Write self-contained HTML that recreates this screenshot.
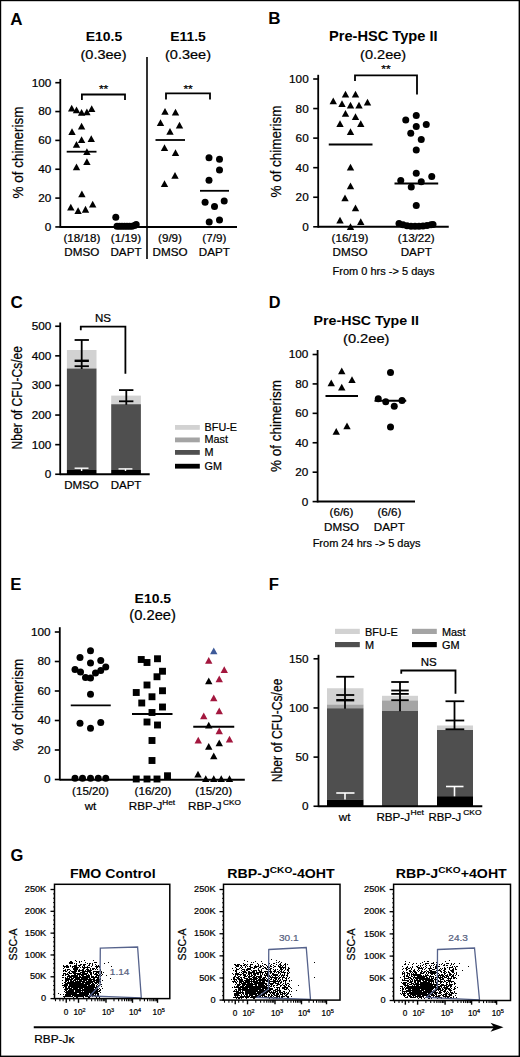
<!DOCTYPE html>
<html><head><meta charset="utf-8"><style>
html,body{margin:0;padding:0;background:#fff;width:520px;height:1057px;overflow:hidden}
svg{display:block;font-family:"Liberation Sans", sans-serif}
</style></head><body>
<svg width="520" height="1057" viewBox="0 0 520 1057">
<rect width="520" height="1057" fill="#fff"/>
<text transform="translate(10.30,24.60)" font-size="17" text-anchor="start" font-weight="bold" fill="#000">A</text>
<text transform="translate(103.90,41.00) scale(1.050,1)" font-size="13.3" text-anchor="middle" font-weight="bold" fill="#000">E10.5</text>
<text transform="translate(103.50,59.00) scale(1.070,1)" font-size="13.6" text-anchor="middle" stroke="#000" stroke-width="0.22" fill="#000">(0.3ee)</text>
<text transform="translate(188.00,41.00) scale(1.050,1)" font-size="13.3" text-anchor="middle" font-weight="bold" fill="#000">E11.5</text>
<text transform="translate(188.00,59.00) scale(1.070,1)" font-size="13.6" text-anchor="middle" stroke="#000" stroke-width="0.22" fill="#000">(0.3ee)</text>
<line x1="147.00" y1="57.00" x2="147.00" y2="259.00" stroke="#000" stroke-width="1.6"/>
<line x1="60.30" y1="79.00" x2="60.30" y2="227.85" stroke="#000" stroke-width="1.8"/>
<line x1="55.30" y1="82.70" x2="60.30" y2="82.70" stroke="#000" stroke-width="1.62"/>
<text transform="translate(51.30,86.64) scale(1.070,1)" font-size="11.0" text-anchor="end" stroke="#000" stroke-width="0.22" fill="#000">100</text>
<line x1="55.30" y1="111.55" x2="60.30" y2="111.55" stroke="#000" stroke-width="1.62"/>
<text transform="translate(51.30,115.49) scale(1.070,1)" font-size="11.0" text-anchor="end" stroke="#000" stroke-width="0.22" fill="#000">80</text>
<line x1="55.30" y1="140.40" x2="60.30" y2="140.40" stroke="#000" stroke-width="1.62"/>
<text transform="translate(51.30,144.34) scale(1.070,1)" font-size="11.0" text-anchor="end" stroke="#000" stroke-width="0.22" fill="#000">60</text>
<line x1="55.30" y1="169.25" x2="60.30" y2="169.25" stroke="#000" stroke-width="1.62"/>
<text transform="translate(51.30,173.19) scale(1.070,1)" font-size="11.0" text-anchor="end" stroke="#000" stroke-width="0.22" fill="#000">40</text>
<line x1="55.30" y1="198.10" x2="60.30" y2="198.10" stroke="#000" stroke-width="1.62"/>
<text transform="translate(51.30,202.04) scale(1.070,1)" font-size="11.0" text-anchor="end" stroke="#000" stroke-width="0.22" fill="#000">20</text>
<line x1="55.30" y1="226.95" x2="60.30" y2="226.95" stroke="#000" stroke-width="1.62"/>
<text transform="translate(51.30,230.89) scale(1.070,1)" font-size="11.0" text-anchor="end" stroke="#000" stroke-width="0.22" fill="#000">0</text>
<line x1="60.30" y1="226.90" x2="237.00" y2="226.90" stroke="#000" stroke-width="2.0"/>
<polyline points="81.90,100.00 81.90,94.50 125.00,94.50 125.00,100.00" fill="none" stroke="#000" stroke-width="1.8"/>
<text transform="translate(103.60,92.90) scale(1.100,1)" font-size="11" text-anchor="middle" stroke="#000" stroke-width="0.22" fill="#000">**</text>
<polyline points="166.00,99.50 166.00,93.30 210.00,93.30 210.00,99.50" fill="none" stroke="#000" stroke-width="1.8"/>
<text transform="translate(188.10,92.50) scale(1.100,1)" font-size="11" text-anchor="middle" stroke="#000" stroke-width="0.22" fill="#000">**</text>
<polygon points="71.70,104.76 68.00,111.56 75.40,111.56" fill="#000"/>
<polygon points="76.50,106.46 72.80,113.26 80.20,113.26" fill="#000"/>
<polygon points="81.60,109.06 77.90,115.86 85.30,115.86" fill="#000"/>
<polygon points="86.90,108.56 83.20,115.36 90.60,115.36" fill="#000"/>
<polygon points="91.70,105.16 88.00,111.96 95.40,111.96" fill="#000"/>
<polygon points="81.60,122.66 77.90,129.46 85.30,129.46" fill="#000"/>
<polygon points="72.00,128.26 68.30,135.06 75.70,135.06" fill="#000"/>
<polygon points="81.60,136.16 77.90,142.96 85.30,142.96" fill="#000"/>
<polygon points="91.25,135.16 87.55,141.96 94.95,141.96" fill="#000"/>
<polygon points="76.50,141.06 72.80,147.86 80.20,147.86" fill="#000"/>
<polygon points="86.90,148.26 83.20,155.06 90.60,155.06" fill="#000"/>
<polygon points="86.90,158.26 83.20,165.06 90.60,165.06" fill="#000"/>
<polygon points="76.50,163.56 72.80,170.36 80.20,170.36" fill="#000"/>
<polygon points="81.90,190.46 78.20,197.26 85.60,197.26" fill="#000"/>
<polygon points="92.70,200.76 89.00,207.56 96.40,207.56" fill="#000"/>
<polygon points="70.80,203.66 67.10,210.46 74.50,210.46" fill="#000"/>
<polygon points="78.10,207.26 74.40,214.06 81.80,214.06" fill="#000"/>
<polygon points="85.50,205.86 81.80,212.66 89.20,212.66" fill="#000"/>
<line x1="66.70" y1="151.70" x2="96.50" y2="151.70" stroke="#000" stroke-width="1.8"/>
<circle cx="115.80" cy="217.30" r="3.5" fill="#000"/>
<circle cx="117.00" cy="226.30" r="3.5" fill="#000"/>
<circle cx="119.50" cy="226.30" r="3.5" fill="#000"/>
<circle cx="122.00" cy="226.30" r="3.5" fill="#000"/>
<circle cx="124.50" cy="226.30" r="3.5" fill="#000"/>
<circle cx="127.00" cy="226.30" r="3.5" fill="#000"/>
<circle cx="129.50" cy="226.30" r="3.5" fill="#000"/>
<circle cx="132.00" cy="226.30" r="3.5" fill="#000"/>
<circle cx="134.50" cy="225.50" r="3.5" fill="#000"/>
<circle cx="136.20" cy="224.60" r="3.5" fill="#000"/>
<polygon points="165.00,108.01 161.30,114.81 168.70,114.81" fill="#000"/>
<polygon points="175.50,108.76 171.80,115.56 179.20,115.56" fill="#000"/>
<polygon points="160.50,119.26 156.80,126.06 164.20,126.06" fill="#000"/>
<polygon points="179.50,121.76 175.80,128.56 183.20,128.56" fill="#000"/>
<polygon points="170.00,128.01 166.30,134.81 173.70,134.81" fill="#000"/>
<polygon points="164.50,144.26 160.80,151.06 168.20,151.06" fill="#000"/>
<polygon points="175.50,149.26 171.80,156.06 179.20,156.06" fill="#000"/>
<polygon points="175.00,172.01 171.30,178.81 178.70,178.81" fill="#000"/>
<polygon points="164.50,180.26 160.80,187.06 168.20,187.06" fill="#000"/>
<line x1="155.50" y1="140.00" x2="185.00" y2="140.00" stroke="#000" stroke-width="1.8"/>
<circle cx="209.00" cy="157.70" r="3.5" fill="#000"/>
<circle cx="219.50" cy="159.30" r="3.5" fill="#000"/>
<circle cx="219.50" cy="170.00" r="3.5" fill="#000"/>
<circle cx="209.00" cy="180.30" r="3.5" fill="#000"/>
<circle cx="205.10" cy="202.20" r="3.5" fill="#000"/>
<circle cx="214.50" cy="206.50" r="3.5" fill="#000"/>
<circle cx="224.20" cy="200.90" r="3.5" fill="#000"/>
<circle cx="209.20" cy="222.00" r="3.5" fill="#000"/>
<circle cx="219.50" cy="220.00" r="3.5" fill="#000"/>
<line x1="200.00" y1="190.80" x2="229.00" y2="190.80" stroke="#000" stroke-width="1.8"/>
<text transform="translate(81.85,242.40) scale(1.060,1)" font-size="11" text-anchor="middle" stroke="#000" stroke-width="0.22" fill="#000">(18/18)</text>
<text transform="translate(81.85,255.80) scale(1.060,1)" font-size="11" text-anchor="middle" stroke="#000" stroke-width="0.22" fill="#000">DMSO</text>
<text transform="translate(126.00,242.40) scale(1.060,1)" font-size="11" text-anchor="middle" stroke="#000" stroke-width="0.22" fill="#000">(1/19)</text>
<text transform="translate(126.00,255.80) scale(1.060,1)" font-size="11" text-anchor="middle" stroke="#000" stroke-width="0.22" fill="#000">DAPT</text>
<text transform="translate(170.00,242.40) scale(1.060,1)" font-size="11" text-anchor="middle" stroke="#000" stroke-width="0.22" fill="#000">(9/9)</text>
<text transform="translate(170.00,255.80) scale(1.060,1)" font-size="11" text-anchor="middle" stroke="#000" stroke-width="0.22" fill="#000">DMSO</text>
<text transform="translate(214.30,242.40) scale(1.060,1)" font-size="11" text-anchor="middle" stroke="#000" stroke-width="0.22" fill="#000">(7/9)</text>
<text transform="translate(214.30,255.80) scale(1.060,1)" font-size="11" text-anchor="middle" stroke="#000" stroke-width="0.22" fill="#000">DAPT</text>
<text transform="translate(23.00,152.50) scale(1.080,1) rotate(-90)" font-size="13.45" text-anchor="middle" stroke="#000" stroke-width="0.22" fill="#000">% of chimerism</text>
<text transform="translate(268.30,24.40)" font-size="17" text-anchor="start" font-weight="bold" fill="#000">B</text>
<text transform="translate(383.30,41.20) scale(1.060,1)" font-size="13.8" text-anchor="middle" font-weight="bold" fill="#000">Pre-HSC Type II</text>
<text transform="translate(383.10,58.60) scale(1.070,1)" font-size="13.6" text-anchor="middle" stroke="#000" stroke-width="0.22" fill="#000">(0.2ee)</text>
<line x1="318.20" y1="74.80" x2="318.20" y2="227.70" stroke="#000" stroke-width="1.8"/>
<line x1="313.20" y1="79.00" x2="318.20" y2="79.00" stroke="#000" stroke-width="1.62"/>
<text transform="translate(308.70,82.94) scale(1.070,1)" font-size="11.0" text-anchor="end" stroke="#000" stroke-width="0.22" fill="#000">100</text>
<line x1="313.20" y1="108.56" x2="318.20" y2="108.56" stroke="#000" stroke-width="1.62"/>
<text transform="translate(308.70,112.50) scale(1.070,1)" font-size="11.0" text-anchor="end" stroke="#000" stroke-width="0.22" fill="#000">80</text>
<line x1="313.20" y1="138.12" x2="318.20" y2="138.12" stroke="#000" stroke-width="1.62"/>
<text transform="translate(308.70,142.06) scale(1.070,1)" font-size="11.0" text-anchor="end" stroke="#000" stroke-width="0.22" fill="#000">60</text>
<line x1="313.20" y1="167.68" x2="318.20" y2="167.68" stroke="#000" stroke-width="1.62"/>
<text transform="translate(308.70,171.62) scale(1.070,1)" font-size="11.0" text-anchor="end" stroke="#000" stroke-width="0.22" fill="#000">40</text>
<line x1="313.20" y1="197.24" x2="318.20" y2="197.24" stroke="#000" stroke-width="1.62"/>
<text transform="translate(308.70,201.18) scale(1.070,1)" font-size="11.0" text-anchor="end" stroke="#000" stroke-width="0.22" fill="#000">20</text>
<line x1="313.20" y1="226.80" x2="318.20" y2="226.80" stroke="#000" stroke-width="1.62"/>
<text transform="translate(308.70,230.74) scale(1.070,1)" font-size="11.0" text-anchor="end" stroke="#000" stroke-width="0.22" fill="#000">0</text>
<line x1="318.20" y1="226.75" x2="448.75" y2="226.75" stroke="#000" stroke-width="2.0"/>
<polyline points="355.00,81.00 355.00,75.30 417.00,75.30 417.00,94.50" fill="none" stroke="#000" stroke-width="1.8"/>
<text transform="translate(385.90,73.30) scale(1.100,1)" font-size="11" text-anchor="middle" stroke="#000" stroke-width="0.22" fill="#000">**</text>
<polygon points="345.50,90.76 341.80,97.56 349.20,97.56" fill="#000"/>
<polygon points="355.50,90.76 351.80,97.56 359.20,97.56" fill="#000"/>
<polygon points="333.25,97.51 329.55,104.31 336.95,104.31" fill="#000"/>
<polygon points="342.00,100.26 338.30,107.06 345.70,107.06" fill="#000"/>
<polygon points="350.50,101.76 346.80,108.56 354.20,108.56" fill="#000"/>
<polygon points="359.00,101.76 355.30,108.56 362.70,108.56" fill="#000"/>
<polygon points="367.50,98.76 363.80,105.56 371.20,105.56" fill="#000"/>
<polygon points="345.50,110.01 341.80,116.81 349.20,116.81" fill="#000"/>
<polygon points="355.50,113.26 351.80,120.06 359.20,120.06" fill="#000"/>
<polygon points="340.00,120.26 336.30,127.06 343.70,127.06" fill="#000"/>
<polygon points="360.75,120.26 357.05,127.06 364.45,127.06" fill="#000"/>
<polygon points="350.50,128.26 346.80,135.06 354.20,135.06" fill="#000"/>
<polygon points="350.50,163.76 346.80,170.56 354.20,170.56" fill="#000"/>
<polygon points="350.50,182.51 346.80,189.31 354.20,189.31" fill="#000"/>
<polygon points="345.00,194.51 341.30,201.31 348.70,201.31" fill="#000"/>
<polygon points="355.50,204.51 351.80,211.31 359.20,211.31" fill="#000"/>
<polygon points="340.00,216.76 336.30,223.56 343.70,223.56" fill="#000"/>
<polygon points="360.75,218.26 357.05,225.06 364.45,225.06" fill="#000"/>
<polygon points="350.50,223.26 346.80,230.06 354.20,230.06" fill="#000"/>
<line x1="328.75" y1="144.50" x2="372.50" y2="144.50" stroke="#000" stroke-width="1.8"/>
<circle cx="416.25" cy="115.50" r="3.5" fill="#000"/>
<circle cx="405.75" cy="120.00" r="3.5" fill="#000"/>
<circle cx="426.25" cy="124.50" r="3.5" fill="#000"/>
<circle cx="416.25" cy="126.50" r="3.5" fill="#000"/>
<circle cx="410.75" cy="133.25" r="3.5" fill="#000"/>
<circle cx="421.25" cy="139.50" r="3.5" fill="#000"/>
<circle cx="416.25" cy="150.00" r="3.5" fill="#000"/>
<circle cx="416.25" cy="173.25" r="3.5" fill="#000"/>
<circle cx="400.75" cy="180.50" r="3.5" fill="#000"/>
<circle cx="431.75" cy="176.50" r="3.5" fill="#000"/>
<circle cx="421.25" cy="181.75" r="3.5" fill="#000"/>
<circle cx="411.25" cy="187.00" r="3.5" fill="#000"/>
<circle cx="416.25" cy="205.50" r="3.5" fill="#000"/>
<circle cx="399.00" cy="223.60" r="3.5" fill="#000"/>
<circle cx="403.00" cy="224.80" r="3.5" fill="#000"/>
<circle cx="407.00" cy="225.80" r="3.5" fill="#000"/>
<circle cx="411.00" cy="226.20" r="3.5" fill="#000"/>
<circle cx="415.00" cy="226.20" r="3.5" fill="#000"/>
<circle cx="419.00" cy="226.20" r="3.5" fill="#000"/>
<circle cx="423.00" cy="226.00" r="3.5" fill="#000"/>
<circle cx="427.00" cy="225.50" r="3.5" fill="#000"/>
<circle cx="431.00" cy="224.80" r="3.5" fill="#000"/>
<circle cx="433.00" cy="224.50" r="3.5" fill="#000"/>
<line x1="394.50" y1="183.50" x2="438.20" y2="183.50" stroke="#000" stroke-width="1.8"/>
<text transform="translate(350.00,242.40) scale(1.060,1)" font-size="11" text-anchor="middle" stroke="#000" stroke-width="0.22" fill="#000">(16/19)</text>
<text transform="translate(350.00,255.60) scale(1.060,1)" font-size="11" text-anchor="middle" stroke="#000" stroke-width="0.22" fill="#000">DMSO</text>
<text transform="translate(416.25,242.40) scale(1.060,1)" font-size="11" text-anchor="middle" stroke="#000" stroke-width="0.22" fill="#000">(13/22)</text>
<text transform="translate(416.25,255.60) scale(1.060,1)" font-size="11" text-anchor="middle" stroke="#000" stroke-width="0.22" fill="#000">DAPT</text>
<text transform="translate(383.50,275.00)" font-size="11" text-anchor="middle" stroke="#000" stroke-width="0.22" fill="#000">From 0 hrs -&gt; 5 days</text>
<text transform="translate(280.50,151.60) scale(1.080,1) rotate(-90)" font-size="13.45" text-anchor="middle" stroke="#000" stroke-width="0.22" fill="#000">% of chimerism</text>
<text transform="translate(10.50,307.60)" font-size="17" text-anchor="start" font-weight="bold" fill="#000">C</text>
<rect x="66.90" y="350.00" width="29.60" height="18.50" fill="#d2d2d2"/>
<rect x="66.90" y="368.50" width="29.60" height="101.50" fill="#4f4f4f"/>
<rect x="66.90" y="470.00" width="29.60" height="4.30" fill="#000"/>
<rect x="111.20" y="395.60" width="29.70" height="8.60" fill="#d2d2d2"/>
<rect x="111.20" y="404.20" width="29.70" height="65.80" fill="#4f4f4f"/>
<rect x="111.20" y="470.00" width="29.70" height="4.30" fill="#000"/>
<line x1="60.20" y1="322.50" x2="60.20" y2="475.15" stroke="#000" stroke-width="1.8"/>
<line x1="55.20" y1="326.25" x2="60.20" y2="326.25" stroke="#000" stroke-width="1.62"/>
<text transform="translate(51.30,330.19) scale(1.070,1)" font-size="11.0" text-anchor="end" stroke="#000" stroke-width="0.22" fill="#000">500</text>
<line x1="55.20" y1="355.85" x2="60.20" y2="355.85" stroke="#000" stroke-width="1.62"/>
<text transform="translate(51.30,359.79) scale(1.070,1)" font-size="11.0" text-anchor="end" stroke="#000" stroke-width="0.22" fill="#000">400</text>
<line x1="55.20" y1="385.45" x2="60.20" y2="385.45" stroke="#000" stroke-width="1.62"/>
<text transform="translate(51.30,389.39) scale(1.070,1)" font-size="11.0" text-anchor="end" stroke="#000" stroke-width="0.22" fill="#000">300</text>
<line x1="55.20" y1="415.05" x2="60.20" y2="415.05" stroke="#000" stroke-width="1.62"/>
<text transform="translate(51.30,418.99) scale(1.070,1)" font-size="11.0" text-anchor="end" stroke="#000" stroke-width="0.22" fill="#000">200</text>
<line x1="55.20" y1="444.65" x2="60.20" y2="444.65" stroke="#000" stroke-width="1.62"/>
<text transform="translate(51.30,448.59) scale(1.070,1)" font-size="11.0" text-anchor="end" stroke="#000" stroke-width="0.22" fill="#000">100</text>
<line x1="55.20" y1="474.25" x2="60.20" y2="474.25" stroke="#000" stroke-width="1.62"/>
<text transform="translate(51.30,478.19) scale(1.070,1)" font-size="11.0" text-anchor="end" stroke="#000" stroke-width="0.22" fill="#000">0</text>
<line x1="60.20" y1="474.30" x2="149.70" y2="474.30" stroke="#000" stroke-width="2.0"/>
<line x1="81.70" y1="340.00" x2="81.70" y2="369.00" stroke="#000" stroke-width="1.8"/>
<line x1="74.60" y1="340.00" x2="88.90" y2="340.00" stroke="#000" stroke-width="1.8"/>
<line x1="74.60" y1="360.80" x2="88.90" y2="360.80" stroke="#000" stroke-width="2.4"/>
<line x1="74.60" y1="366.20" x2="88.90" y2="366.20" stroke="#000" stroke-width="1.8"/>
<line x1="126.30" y1="390.10" x2="126.30" y2="404.80" stroke="#000" stroke-width="1.8"/>
<line x1="119.00" y1="390.10" x2="133.40" y2="390.10" stroke="#000" stroke-width="1.8"/>
<line x1="119.00" y1="401.30" x2="133.40" y2="401.30" stroke="#000" stroke-width="1.8"/>
<line x1="81.60" y1="468.20" x2="81.60" y2="471.00" stroke="#fff" stroke-width="1.4"/>
<line x1="74.60" y1="468.20" x2="88.50" y2="468.20" stroke="#fff" stroke-width="1.4"/>
<line x1="125.50" y1="468.90" x2="125.50" y2="471.00" stroke="#fff" stroke-width="1.4"/>
<line x1="118.50" y1="468.90" x2="132.40" y2="468.90" stroke="#fff" stroke-width="1.4"/>
<polyline points="80.80,330.20 80.80,326.60 125.40,326.60 125.40,373.80" fill="none" stroke="#000" stroke-width="1.8"/>
<text transform="translate(103.00,322.20) scale(1.050,1)" font-size="11" text-anchor="middle" stroke="#000" stroke-width="0.22" fill="#000">NS</text>
<text transform="translate(81.50,488.50) scale(1.030,1)" font-size="11.2" text-anchor="middle" stroke="#000" stroke-width="0.22" fill="#000">DMSO</text>
<text transform="translate(126.00,488.50) scale(1.030,1)" font-size="11.2" text-anchor="middle" stroke="#000" stroke-width="0.22" fill="#000">DAPT</text>
<rect x="175.00" y="425.00" width="24.80" height="4.80" fill="#d2d2d2"/>
<text transform="translate(204.60,430.70)" font-size="10.8" text-anchor="start" stroke="#000" stroke-width="0.22" fill="#000">BFU-E</text>
<rect x="175.00" y="437.50" width="24.80" height="4.80" fill="#a4a4a4"/>
<text transform="translate(204.60,443.20)" font-size="10.8" text-anchor="start" stroke="#000" stroke-width="0.22" fill="#000">Mast</text>
<rect x="175.00" y="450.00" width="24.80" height="4.80" fill="#4f4f4f"/>
<text transform="translate(204.60,455.70)" font-size="10.8" text-anchor="start" stroke="#000" stroke-width="0.22" fill="#000">M</text>
<rect x="175.00" y="463.80" width="24.80" height="4.80" fill="#000"/>
<text transform="translate(204.60,469.50)" font-size="10.8" text-anchor="start" stroke="#000" stroke-width="0.22" fill="#000">GM</text>
<text transform="translate(22.20,397.70) scale(1.200,1) rotate(-90)" font-size="12.1" text-anchor="middle" stroke="#000" stroke-width="0.22" fill="#000">Nber of CFU-Cs/ee</text>
<text transform="translate(268.80,307.90)" font-size="16.3" text-anchor="start" font-weight="bold" fill="#000">D</text>
<text transform="translate(366.25,325.00) scale(1.045,1)" font-size="13.6" text-anchor="middle" font-weight="bold" fill="#000">Pre-HSC Type II</text>
<text transform="translate(366.25,342.70) scale(1.080,1)" font-size="13.6" text-anchor="middle" stroke="#000" stroke-width="0.22" fill="#000">(0.2ee)</text>
<line x1="317.60" y1="350.00" x2="317.60" y2="502.50" stroke="#000" stroke-width="1.8"/>
<line x1="312.60" y1="354.50" x2="317.60" y2="354.50" stroke="#000" stroke-width="1.62"/>
<text transform="translate(308.40,358.44) scale(1.070,1)" font-size="11.0" text-anchor="end" stroke="#000" stroke-width="0.22" fill="#000">100</text>
<line x1="312.60" y1="383.92" x2="317.60" y2="383.92" stroke="#000" stroke-width="1.62"/>
<text transform="translate(308.40,387.86) scale(1.070,1)" font-size="11.0" text-anchor="end" stroke="#000" stroke-width="0.22" fill="#000">80</text>
<line x1="312.60" y1="413.34" x2="317.60" y2="413.34" stroke="#000" stroke-width="1.62"/>
<text transform="translate(308.40,417.28) scale(1.070,1)" font-size="11.0" text-anchor="end" stroke="#000" stroke-width="0.22" fill="#000">60</text>
<line x1="312.60" y1="442.76" x2="317.60" y2="442.76" stroke="#000" stroke-width="1.62"/>
<text transform="translate(308.40,446.70) scale(1.070,1)" font-size="11.0" text-anchor="end" stroke="#000" stroke-width="0.22" fill="#000">40</text>
<line x1="312.60" y1="472.18" x2="317.60" y2="472.18" stroke="#000" stroke-width="1.62"/>
<text transform="translate(308.40,476.12) scale(1.070,1)" font-size="11.0" text-anchor="end" stroke="#000" stroke-width="0.22" fill="#000">20</text>
<line x1="312.60" y1="501.60" x2="317.60" y2="501.60" stroke="#000" stroke-width="1.62"/>
<text transform="translate(308.40,505.54) scale(1.070,1)" font-size="11.0" text-anchor="end" stroke="#000" stroke-width="0.22" fill="#000">0</text>
<line x1="317.60" y1="501.60" x2="415.00" y2="501.60" stroke="#000" stroke-width="2.0"/>
<polygon points="341.75,367.51 338.05,374.31 345.45,374.31" fill="#000"/>
<polygon points="331.25,379.51 327.55,386.31 334.95,386.31" fill="#000"/>
<polygon points="352.00,376.26 348.30,383.06 355.70,383.06" fill="#000"/>
<polygon points="341.75,383.76 338.05,390.56 345.45,390.56" fill="#000"/>
<polygon points="336.25,428.01 332.55,434.81 339.95,434.81" fill="#000"/>
<polygon points="347.00,422.51 343.30,429.31 350.70,429.31" fill="#000"/>
<line x1="325.50" y1="396.00" x2="358.00" y2="396.00" stroke="#000" stroke-width="1.8"/>
<circle cx="390.50" cy="372.50" r="3.5" fill="#000"/>
<circle cx="378.25" cy="398.75" r="3.5" fill="#000"/>
<circle cx="385.75" cy="401.75" r="3.5" fill="#000"/>
<circle cx="394.25" cy="406.25" r="3.5" fill="#000"/>
<circle cx="402.00" cy="400.50" r="3.5" fill="#000"/>
<circle cx="390.50" cy="427.00" r="3.5" fill="#000"/>
<line x1="374.50" y1="400.75" x2="406.25" y2="400.75" stroke="#000" stroke-width="1.8"/>
<text transform="translate(341.50,516.00) scale(1.060,1)" font-size="11" text-anchor="middle" stroke="#000" stroke-width="0.22" fill="#000">(6/6)</text>
<text transform="translate(341.50,531.20) scale(1.060,1)" font-size="11" text-anchor="middle" stroke="#000" stroke-width="0.22" fill="#000">DMSO</text>
<text transform="translate(389.40,516.00) scale(1.060,1)" font-size="11" text-anchor="middle" stroke="#000" stroke-width="0.22" fill="#000">(6/6)</text>
<text transform="translate(389.40,531.20) scale(1.060,1)" font-size="11" text-anchor="middle" stroke="#000" stroke-width="0.22" fill="#000">DAPT</text>
<text transform="translate(366.60,547.00)" font-size="11" text-anchor="middle" stroke="#000" stroke-width="0.22" fill="#000">From 24 hrs -&gt; 5 days</text>
<text transform="translate(281.00,426.00) scale(1.080,1) rotate(-90)" font-size="13.45" text-anchor="middle" stroke="#000" stroke-width="0.22" fill="#000">% of chimerism</text>
<text transform="translate(10.30,590.10)" font-size="16.7" text-anchor="start" font-weight="bold" fill="#000">E</text>
<text transform="translate(152.80,602.50) scale(1.050,1)" font-size="13.3" text-anchor="middle" font-weight="bold" fill="#000">E10.5</text>
<text transform="translate(152.60,620.00) scale(1.060,1)" font-size="13.9" text-anchor="middle" stroke="#000" stroke-width="0.22" fill="#000">(0.2ee)</text>
<line x1="59.80" y1="627.20" x2="59.80" y2="780.40" stroke="#000" stroke-width="1.8"/>
<line x1="54.80" y1="632.00" x2="59.80" y2="632.00" stroke="#000" stroke-width="1.62"/>
<text transform="translate(50.50,635.94) scale(1.070,1)" font-size="11.0" text-anchor="end" stroke="#000" stroke-width="0.22" fill="#000">100</text>
<line x1="54.80" y1="661.50" x2="59.80" y2="661.50" stroke="#000" stroke-width="1.62"/>
<text transform="translate(50.50,665.44) scale(1.070,1)" font-size="11.0" text-anchor="end" stroke="#000" stroke-width="0.22" fill="#000">80</text>
<line x1="54.80" y1="691.00" x2="59.80" y2="691.00" stroke="#000" stroke-width="1.62"/>
<text transform="translate(50.50,694.94) scale(1.070,1)" font-size="11.0" text-anchor="end" stroke="#000" stroke-width="0.22" fill="#000">60</text>
<line x1="54.80" y1="720.50" x2="59.80" y2="720.50" stroke="#000" stroke-width="1.62"/>
<text transform="translate(50.50,724.44) scale(1.070,1)" font-size="11.0" text-anchor="end" stroke="#000" stroke-width="0.22" fill="#000">40</text>
<line x1="54.80" y1="750.00" x2="59.80" y2="750.00" stroke="#000" stroke-width="1.62"/>
<text transform="translate(50.50,753.94) scale(1.070,1)" font-size="11.0" text-anchor="end" stroke="#000" stroke-width="0.22" fill="#000">20</text>
<line x1="54.80" y1="779.50" x2="59.80" y2="779.50" stroke="#000" stroke-width="1.62"/>
<text transform="translate(50.50,783.44) scale(1.070,1)" font-size="11.0" text-anchor="end" stroke="#000" stroke-width="0.22" fill="#000">0</text>
<line x1="59.80" y1="779.80" x2="244.80" y2="779.80" stroke="#000" stroke-width="2.0"/>
<circle cx="80.00" cy="657.50" r="3.5" fill="#000"/>
<circle cx="90.50" cy="650.75" r="3.5" fill="#000"/>
<circle cx="90.50" cy="663.00" r="3.5" fill="#000"/>
<circle cx="100.75" cy="660.50" r="3.5" fill="#000"/>
<circle cx="75.00" cy="669.50" r="3.5" fill="#000"/>
<circle cx="80.50" cy="672.00" r="3.5" fill="#000"/>
<circle cx="85.50" cy="677.50" r="3.5" fill="#000"/>
<circle cx="90.50" cy="678.00" r="3.5" fill="#000"/>
<circle cx="95.50" cy="673.00" r="3.5" fill="#000"/>
<circle cx="100.75" cy="670.50" r="3.5" fill="#000"/>
<circle cx="105.75" cy="667.00" r="3.5" fill="#000"/>
<circle cx="90.50" cy="694.25" r="3.5" fill="#000"/>
<circle cx="80.00" cy="723.25" r="3.5" fill="#000"/>
<circle cx="90.50" cy="728.25" r="3.5" fill="#000"/>
<circle cx="100.75" cy="722.50" r="3.5" fill="#000"/>
<circle cx="75.00" cy="778.25" r="3.5" fill="#000"/>
<circle cx="82.50" cy="778.25" r="3.5" fill="#000"/>
<circle cx="90.50" cy="778.25" r="3.5" fill="#000"/>
<circle cx="98.25" cy="778.25" r="3.5" fill="#000"/>
<circle cx="105.75" cy="778.25" r="3.5" fill="#000"/>
<line x1="70.75" y1="705.30" x2="110.75" y2="705.30" stroke="#000" stroke-width="1.8"/>
<rect x="137.80" y="656.05" width="6.9" height="6.9" fill="#000"/>
<rect x="143.55" y="659.05" width="6.9" height="6.9" fill="#000"/>
<rect x="154.05" y="655.30" width="6.9" height="6.9" fill="#000"/>
<rect x="159.05" y="667.80" width="6.9" height="6.9" fill="#000"/>
<rect x="153.55" y="673.30" width="6.9" height="6.9" fill="#000"/>
<rect x="143.55" y="681.55" width="6.9" height="6.9" fill="#000"/>
<rect x="132.80" y="689.05" width="6.9" height="6.9" fill="#000"/>
<rect x="159.05" y="687.30" width="6.9" height="6.9" fill="#000"/>
<rect x="148.55" y="693.30" width="6.9" height="6.9" fill="#000"/>
<rect x="138.30" y="699.55" width="6.9" height="6.9" fill="#000"/>
<rect x="159.05" y="703.55" width="6.9" height="6.9" fill="#000"/>
<rect x="148.55" y="709.05" width="6.9" height="6.9" fill="#000"/>
<rect x="143.55" y="718.55" width="6.9" height="6.9" fill="#000"/>
<rect x="154.05" y="721.55" width="6.9" height="6.9" fill="#000"/>
<rect x="148.55" y="737.05" width="6.9" height="6.9" fill="#000"/>
<rect x="148.55" y="757.05" width="6.9" height="6.9" fill="#000"/>
<rect x="132.80" y="775.55" width="6.9" height="6.9" fill="#000"/>
<rect x="143.55" y="775.55" width="6.9" height="6.9" fill="#000"/>
<rect x="153.55" y="775.55" width="6.9" height="6.9" fill="#000"/>
<rect x="164.05" y="772.30" width="6.9" height="6.9" fill="#000"/>
<line x1="132.00" y1="714.00" x2="172.50" y2="714.00" stroke="#000" stroke-width="1.8"/>
<polygon points="213.75,647.51 210.05,654.31 217.45,654.31" fill="#3d5a99"/>
<polygon points="208.75,657.01 205.05,663.81 212.45,663.81" fill="#a3173e"/>
<polygon points="224.25,666.26 220.55,673.06 227.95,673.06" fill="#a3173e"/>
<polygon points="208.75,677.51 205.05,684.31 212.45,684.31" fill="#000"/>
<polygon points="219.25,675.51 215.55,682.31 222.95,682.31" fill="#a3173e"/>
<polygon points="213.75,694.51 210.05,701.31 217.45,701.31" fill="#a3173e"/>
<polygon points="219.25,707.51 215.55,714.31 222.95,714.31" fill="#a3173e"/>
<polygon points="203.75,712.51 200.05,719.31 207.45,719.31" fill="#a3173e"/>
<polygon points="208.75,721.76 205.05,728.56 212.45,728.56" fill="#000"/>
<polygon points="219.25,727.51 215.55,734.31 222.95,734.31" fill="#a3173e"/>
<polygon points="198.25,736.76 194.55,743.56 201.95,743.56" fill="#a3173e"/>
<polygon points="229.50,735.76 225.80,742.56 233.20,742.56" fill="#a3173e"/>
<polygon points="219.25,739.51 215.55,746.31 222.95,746.31" fill="#000"/>
<polygon points="208.75,743.01 205.05,749.81 212.45,749.81" fill="#000"/>
<polygon points="213.75,752.51 210.05,759.31 217.45,759.31" fill="#000"/>
<polygon points="198.00,770.76 194.30,777.56 201.70,777.56" fill="#000"/>
<polygon points="205.75,775.26 202.05,782.06 209.45,782.06" fill="#000"/>
<polygon points="213.75,775.26 210.05,782.06 217.45,782.06" fill="#000"/>
<polygon points="221.25,775.26 217.55,782.06 224.95,782.06" fill="#000"/>
<polygon points="229.50,775.26 225.80,782.06 233.20,782.06" fill="#000"/>
<line x1="193.25" y1="726.75" x2="234.25" y2="726.75" stroke="#000" stroke-width="1.8"/>
<text transform="translate(90.50,795.00) scale(1.060,1)" font-size="11" text-anchor="middle" stroke="#000" stroke-width="0.22" fill="#000">(15/20)</text>
<text transform="translate(90.50,810.00) scale(1.060,1)" font-size="11" text-anchor="middle" stroke="#000" stroke-width="0.22" fill="#000">wt</text>
<text transform="translate(153.00,794.50) scale(1.060,1)" font-size="11" text-anchor="middle" stroke="#000" stroke-width="0.22" fill="#000">(16/20)</text>
<text transform="translate(213.75,794.50) scale(1.060,1)" font-size="11" text-anchor="middle" stroke="#000" stroke-width="0.22" fill="#000">(15/20)</text>
<text transform="translate(128.75,810.00) scale(1.060,1)" font-size="11" text-anchor="start" stroke="#000" stroke-width="0.22" fill="#000">RBP-J</text>
<text transform="translate(162.30,805.00) scale(1.060,1)" font-size="7.8" text-anchor="start" stroke="#000" stroke-width="0.22" fill="#000">Het</text>
<text transform="translate(188.00,810.00) scale(1.060,1)" font-size="11" text-anchor="start" stroke="#000" stroke-width="0.22" fill="#000">RBP-J</text>
<text transform="translate(223.00,805.00) scale(1.060,1)" font-size="7.8" text-anchor="start" stroke="#000" stroke-width="0.22" fill="#000">CKO</text>
<text transform="translate(22.70,704.80) scale(1.080,1) rotate(-90)" font-size="13.45" text-anchor="middle" stroke="#000" stroke-width="0.22" fill="#000">% of chimerism</text>
<text transform="translate(268.80,590.10)" font-size="16.7" text-anchor="start" font-weight="bold" fill="#000">F</text>
<rect x="335.00" y="628.80" width="24.80" height="5.20" fill="#d2d2d2"/>
<text transform="translate(365.00,635.60) scale(0.990,1)" font-size="11" text-anchor="start" stroke="#000" stroke-width="0.22" fill="#000">BFU-E</text>
<rect x="412.00" y="628.80" width="24.80" height="5.20" fill="#a4a4a4"/>
<text transform="translate(442.00,635.60) scale(0.990,1)" font-size="11" text-anchor="start" stroke="#000" stroke-width="0.22" fill="#000">Mast</text>
<rect x="335.00" y="642.00" width="24.80" height="5.20" fill="#4f4f4f"/>
<text transform="translate(365.00,648.80) scale(0.990,1)" font-size="11" text-anchor="start" stroke="#000" stroke-width="0.22" fill="#000">M</text>
<rect x="412.00" y="642.00" width="24.80" height="5.20" fill="#000"/>
<text transform="translate(442.00,648.80) scale(0.990,1)" font-size="11" text-anchor="start" stroke="#000" stroke-width="0.22" fill="#000">GM</text>
<rect x="327.00" y="688.25" width="36.50" height="16.25" fill="#d2d2d2"/>
<rect x="327.00" y="704.50" width="36.50" height="3.75" fill="#a4a4a4"/>
<rect x="327.00" y="708.25" width="36.50" height="91.25" fill="#4f4f4f"/>
<rect x="327.00" y="799.50" width="36.50" height="6.75" fill="#000"/>
<rect x="382.00" y="695.80" width="36.00" height="4.60" fill="#d2d2d2"/>
<rect x="382.00" y="700.40" width="36.00" height="10.60" fill="#a4a4a4"/>
<rect x="382.00" y="711.00" width="36.00" height="95.20" fill="#4f4f4f"/>
<rect x="437.00" y="725.50" width="36.00" height="4.50" fill="#d2d2d2"/>
<rect x="437.00" y="730.00" width="36.00" height="66.20" fill="#4f4f4f"/>
<rect x="437.00" y="796.20" width="36.00" height="10.00" fill="#000"/>
<line x1="318.50" y1="654.80" x2="318.50" y2="807.15" stroke="#000" stroke-width="1.8"/>
<line x1="313.50" y1="658.80" x2="318.50" y2="658.80" stroke="#000" stroke-width="1.62"/>
<text transform="translate(308.60,662.74) scale(1.070,1)" font-size="11.0" text-anchor="end" stroke="#000" stroke-width="0.22" fill="#000">150</text>
<line x1="313.50" y1="707.95" x2="318.50" y2="707.95" stroke="#000" stroke-width="1.62"/>
<text transform="translate(308.60,711.89) scale(1.070,1)" font-size="11.0" text-anchor="end" stroke="#000" stroke-width="0.22" fill="#000">100</text>
<line x1="313.50" y1="757.10" x2="318.50" y2="757.10" stroke="#000" stroke-width="1.62"/>
<text transform="translate(308.60,761.04) scale(1.070,1)" font-size="11.0" text-anchor="end" stroke="#000" stroke-width="0.22" fill="#000">50</text>
<line x1="313.50" y1="806.25" x2="318.50" y2="806.25" stroke="#000" stroke-width="1.62"/>
<text transform="translate(308.60,810.19) scale(1.070,1)" font-size="11.0" text-anchor="end" stroke="#000" stroke-width="0.22" fill="#000">0</text>
<line x1="318.50" y1="806.25" x2="482.30" y2="806.25" stroke="#000" stroke-width="2.0"/>
<line x1="345.00" y1="676.75" x2="345.00" y2="708.75" stroke="#000" stroke-width="1.8"/>
<line x1="336.25" y1="676.75" x2="354.25" y2="676.75" stroke="#000" stroke-width="1.8"/>
<line x1="336.25" y1="695.00" x2="354.25" y2="695.00" stroke="#000" stroke-width="1.8"/>
<line x1="336.25" y1="700.20" x2="354.25" y2="700.20" stroke="#000" stroke-width="2.4"/>
<line x1="400.00" y1="682.00" x2="400.00" y2="711.25" stroke="#000" stroke-width="1.8"/>
<line x1="391.25" y1="682.00" x2="408.75" y2="682.00" stroke="#000" stroke-width="1.8"/>
<line x1="391.25" y1="690.50" x2="408.75" y2="690.50" stroke="#000" stroke-width="1.8"/>
<line x1="391.25" y1="693.90" x2="408.75" y2="693.90" stroke="#000" stroke-width="1.8"/>
<line x1="391.25" y1="700.20" x2="408.75" y2="700.20" stroke="#000" stroke-width="1.8"/>
<line x1="454.50" y1="701.25" x2="454.50" y2="730.00" stroke="#000" stroke-width="1.8"/>
<line x1="445.50" y1="701.25" x2="464.25" y2="701.25" stroke="#000" stroke-width="1.8"/>
<line x1="445.50" y1="720.50" x2="464.25" y2="720.50" stroke="#000" stroke-width="1.8"/>
<line x1="445.50" y1="729.30" x2="464.25" y2="729.30" stroke="#000" stroke-width="1.8"/>
<line x1="345.00" y1="793.00" x2="345.00" y2="799.60" stroke="#fff" stroke-width="1.6"/>
<line x1="336.25" y1="793.00" x2="354.50" y2="793.00" stroke="#fff" stroke-width="1.6"/>
<line x1="454.50" y1="786.50" x2="454.50" y2="796.30" stroke="#fff" stroke-width="1.6"/>
<line x1="446.00" y1="786.50" x2="463.50" y2="786.50" stroke="#fff" stroke-width="1.6"/>
<polyline points="401.25,673.75 401.25,670.50 455.50,670.50 455.50,693.75" fill="none" stroke="#000" stroke-width="1.8"/>
<text transform="translate(428.75,665.50) scale(1.050,1)" font-size="11" text-anchor="middle" stroke="#000" stroke-width="0.22" fill="#000">NS</text>
<text transform="translate(344.60,821.00) scale(1.060,1)" font-size="11" text-anchor="middle" stroke="#000" stroke-width="0.22" fill="#000">wt</text>
<text transform="translate(376.40,821.00) scale(1.060,1)" font-size="11" text-anchor="start" stroke="#000" stroke-width="0.22" fill="#000">RBP-J</text>
<text transform="translate(410.50,815.30) scale(1.100,1)" font-size="7.8" text-anchor="start" stroke="#000" stroke-width="0.22" fill="#000">Het</text>
<text transform="translate(428.50,821.00) scale(1.030,1)" font-size="11" text-anchor="start" stroke="#000" stroke-width="0.22" fill="#000">RBP-J</text>
<text transform="translate(463.20,815.30) scale(1.080,1)" font-size="7.8" text-anchor="start" stroke="#000" stroke-width="0.22" fill="#000">CKO</text>
<text transform="translate(281.70,730.40) scale(1.200,1) rotate(-90)" font-size="12.1" text-anchor="middle" stroke="#000" stroke-width="0.22" fill="#000">Nber of CFU-Cs/ee</text>
<text transform="translate(10.40,861.00)" font-size="16.5" text-anchor="start" font-weight="bold" fill="#000">G</text>
<path d="M75 960h1v1h-1zM84 960h1v1h-1zM93 960h1v1h-1zM70 961h2v1h-2zM76 961h1v1h-1zM79 961h1v1h-1zM81 961h1v1h-1zM69 962h4v1h-4zM79 962h1v1h-1zM85 962h1v1h-1zM94 962h3v1h-3zM69 963h4v1h-4zM74 963h1v1h-1zM76 963h1v1h-1zM87 963h1v1h-1zM89 963h2v1h-2zM92 963h1v1h-1zM76 964h1v1h-1zM80 964h2v1h-2zM83 964h3v1h-3zM89 964h1v1h-1zM92 964h1v1h-1zM95 964h1v1h-1zM63 965h1v1h-1zM66 965h2v1h-2zM70 965h1v1h-1zM74 965h3v1h-3zM78 965h3v1h-3zM83 965h2v1h-2zM88 965h2v1h-2zM92 965h1v1h-1zM96 965h1v1h-1zM98 965h1v1h-1zM63 966h6v1h-6zM70 966h1v1h-1zM72 966h5v1h-5zM79 966h1v1h-1zM82 966h1v1h-1zM84 966h1v1h-1zM87 966h1v1h-1zM91 966h1v1h-1zM95 966h5v1h-5zM64 967h1v1h-1zM66 967h3v1h-3zM72 967h1v1h-1zM74 967h5v1h-5zM80 967h1v1h-1zM82 967h8v1h-8zM96 967h2v1h-2zM99 967h1v1h-1zM63 968h1v1h-1zM73 968h5v1h-5zM83 968h2v1h-2zM87 968h1v1h-1zM90 968h1v1h-1zM92 968h3v1h-3zM96 968h1v1h-1zM65 969h1v1h-1zM67 969h3v1h-3zM73 969h5v1h-5zM79 969h1v1h-1zM82 969h2v1h-2zM86 969h3v1h-3zM90 969h1v1h-1zM92 969h2v1h-2zM95 969h1v1h-1zM97 969h1v1h-1zM100 969h1v1h-1zM63 970h3v1h-3zM67 970h1v1h-1zM70 970h1v1h-1zM74 970h3v1h-3zM78 970h6v1h-6zM85 970h1v1h-1zM87 970h5v1h-5zM100 970h1v1h-1zM63 971h1v1h-1zM65 971h2v1h-2zM69 971h1v1h-1zM71 971h6v1h-6zM78 971h2v1h-2zM82 971h9v1h-9zM93 971h7v1h-7zM101 971h1v1h-1zM68 972h2v1h-2zM72 972h4v1h-4zM80 972h5v1h-5zM87 972h1v1h-1zM89 972h3v1h-3zM93 972h1v1h-1zM96 972h3v1h-3zM101 972h1v1h-1zM63 973h3v1h-3zM67 973h1v1h-1zM69 973h3v1h-3zM73 973h8v1h-8zM82 973h6v1h-6zM90 973h2v1h-2zM93 973h1v1h-1zM95 973h2v1h-2zM98 973h1v1h-1zM101 973h1v1h-1zM63 974h1v1h-1zM65 974h4v1h-4zM74 974h2v1h-2zM77 974h10v1h-10zM88 974h1v1h-1zM90 974h2v1h-2zM94 974h4v1h-4zM99 974h2v1h-2zM102 974h1v1h-1zM62 975h2v1h-2zM65 975h1v1h-1zM68 975h2v1h-2zM71 975h7v1h-7zM79 975h1v1h-1zM81 975h3v1h-3zM86 975h4v1h-4zM91 975h1v1h-1zM96 975h4v1h-4zM101 975h1v1h-1zM67 976h11v1h-11zM79 976h2v1h-2zM82 976h8v1h-8zM91 976h3v1h-3zM95 976h2v1h-2zM98 976h1v1h-1zM100 976h1v1h-1zM62 977h2v1h-2zM65 977h1v1h-1zM67 977h1v1h-1zM69 977h3v1h-3zM73 977h17v1h-17zM91 977h8v1h-8zM65 978h5v1h-5zM71 978h3v1h-3zM75 978h5v1h-5zM81 978h7v1h-7zM89 978h2v1h-2zM93 978h2v1h-2zM97 978h2v1h-2zM100 978h1v1h-1zM65 979h8v1h-8zM74 979h21v1h-21zM96 979h5v1h-5zM62 980h1v1h-1zM65 980h4v1h-4zM70 980h2v1h-2zM73 980h3v1h-3zM77 980h1v1h-1zM79 980h3v1h-3zM83 980h4v1h-4zM88 980h4v1h-4zM93 980h7v1h-7zM65 981h2v1h-2zM68 981h1v1h-1zM70 981h4v1h-4zM75 981h10v1h-10zM86 981h9v1h-9zM96 981h5v1h-5zM64 982h2v1h-2zM67 982h14v1h-14zM82 982h11v1h-11zM94 982h5v1h-5zM100 982h1v1h-1zM62 983h1v1h-1zM65 983h19v1h-19zM85 983h6v1h-6zM92 983h2v1h-2zM95 983h2v1h-2zM98 983h1v1h-1zM64 984h4v1h-4zM69 984h21v1h-21zM91 984h4v1h-4zM97 984h1v1h-1zM100 984h2v1h-2zM62 985h6v1h-6zM69 985h18v1h-18zM88 985h7v1h-7zM96 985h1v1h-1zM98 985h2v1h-2zM64 986h3v1h-3zM68 986h27v1h-27zM96 986h3v1h-3zM101 986h1v1h-1zM63 987h1v1h-1zM65 987h2v1h-2zM68 987h2v1h-2zM71 987h26v1h-26zM65 988h7v1h-7zM73 988h5v1h-5zM79 988h4v1h-4zM84 988h10v1h-10zM95 988h3v1h-3zM99 988h1v1h-1zM102 988h1v1h-1zM64 989h4v1h-4zM69 989h12v1h-12zM82 989h17v1h-17zM100 989h1v1h-1zM65 990h2v1h-2zM68 990h6v1h-6zM75 990h23v1h-23zM99 990h2v1h-2zM64 991h1v1h-1zM66 991h8v1h-8zM75 991h6v1h-6zM82 991h1v1h-1zM84 991h16v1h-16zM65 992h33v1h-33zM100 992h1v1h-1zM66 993h11v1h-11zM79 993h10v1h-10zM90 993h9v1h-9zM63 994h1v1h-1zM65 994h24v1h-24zM90 994h4v1h-4zM95 994h1v1h-1zM97 994h2v1h-2zM65 995h6v1h-6zM72 995h16v1h-16zM89 995h7v1h-7zM97 995h2v1h-2zM63 996h10v1h-10zM74 996h10v1h-10zM85 996h6v1h-6zM92 996h1v1h-1zM95 996h6v1h-6zM64 997h1v1h-1zM73 997h1v1h-1zM76 997h2v1h-2zM83 997h1v1h-1zM88 997h2v1h-2zM96 997h1v1h-1zM99 997h1v1h-1zM104 963h1v1h-1zM108 962h1v1h-1zM111 966h1v1h-1zM103 972h1v1h-1zM106 975h1v1h-1zM102 980h1v1h-1zM110 978h1v1h-1zM58 993h1v1h-1zM60 994h1v1h-1z" fill="#000"/>
<polygon points="100.30,948.20 137.60,947.00 141.30,997.80 89.70,996.00 100.00,985.00" fill="none" stroke="#56638c" stroke-width="1.3"/>
<rect x="54.50" y="884.30" width="115.30" height="114.30" fill="none" stroke="#000" stroke-width="1.5"/>
<line x1="50.50" y1="889.50" x2="54.50" y2="889.50" stroke="#000" stroke-width="1.3"/>
<text transform="translate(46.20,892.10) scale(1.020,1)" font-size="9" text-anchor="end" stroke="#000" stroke-width="0.22" fill="#000">250K</text>
<line x1="50.50" y1="911.32" x2="54.50" y2="911.32" stroke="#000" stroke-width="1.3"/>
<text transform="translate(46.20,913.92) scale(1.020,1)" font-size="9" text-anchor="end" stroke="#000" stroke-width="0.22" fill="#000">200K</text>
<line x1="50.50" y1="933.14" x2="54.50" y2="933.14" stroke="#000" stroke-width="1.3"/>
<text transform="translate(46.20,935.74) scale(1.020,1)" font-size="9" text-anchor="end" stroke="#000" stroke-width="0.22" fill="#000">150K</text>
<line x1="50.50" y1="954.96" x2="54.50" y2="954.96" stroke="#000" stroke-width="1.3"/>
<text transform="translate(46.20,957.56) scale(1.020,1)" font-size="9" text-anchor="end" stroke="#000" stroke-width="0.22" fill="#000">100K</text>
<line x1="50.50" y1="976.78" x2="54.50" y2="976.78" stroke="#000" stroke-width="1.3"/>
<text transform="translate(46.20,979.38) scale(1.020,1)" font-size="9" text-anchor="end" stroke="#000" stroke-width="0.22" fill="#000">50K</text>
<line x1="50.50" y1="998.60" x2="54.50" y2="998.60" stroke="#000" stroke-width="1.3"/>
<text transform="translate(46.20,1001.20) scale(1.020,1)" font-size="9" text-anchor="end" stroke="#000" stroke-width="0.22" fill="#000">0</text>
<line x1="53.00" y1="889.50" x2="54.50" y2="889.50" stroke="#000" stroke-width="0.9"/>
<line x1="53.00" y1="893.86" x2="54.50" y2="893.86" stroke="#000" stroke-width="0.9"/>
<line x1="53.00" y1="898.23" x2="54.50" y2="898.23" stroke="#000" stroke-width="0.9"/>
<line x1="53.00" y1="902.59" x2="54.50" y2="902.59" stroke="#000" stroke-width="0.9"/>
<line x1="53.00" y1="906.96" x2="54.50" y2="906.96" stroke="#000" stroke-width="0.9"/>
<line x1="53.00" y1="911.32" x2="54.50" y2="911.32" stroke="#000" stroke-width="0.9"/>
<line x1="53.00" y1="915.68" x2="54.50" y2="915.68" stroke="#000" stroke-width="0.9"/>
<line x1="53.00" y1="920.05" x2="54.50" y2="920.05" stroke="#000" stroke-width="0.9"/>
<line x1="53.00" y1="924.41" x2="54.50" y2="924.41" stroke="#000" stroke-width="0.9"/>
<line x1="53.00" y1="928.78" x2="54.50" y2="928.78" stroke="#000" stroke-width="0.9"/>
<line x1="53.00" y1="933.14" x2="54.50" y2="933.14" stroke="#000" stroke-width="0.9"/>
<line x1="53.00" y1="937.50" x2="54.50" y2="937.50" stroke="#000" stroke-width="0.9"/>
<line x1="53.00" y1="941.87" x2="54.50" y2="941.87" stroke="#000" stroke-width="0.9"/>
<line x1="53.00" y1="946.23" x2="54.50" y2="946.23" stroke="#000" stroke-width="0.9"/>
<line x1="53.00" y1="950.60" x2="54.50" y2="950.60" stroke="#000" stroke-width="0.9"/>
<line x1="53.00" y1="954.96" x2="54.50" y2="954.96" stroke="#000" stroke-width="0.9"/>
<line x1="53.00" y1="959.32" x2="54.50" y2="959.32" stroke="#000" stroke-width="0.9"/>
<line x1="53.00" y1="963.69" x2="54.50" y2="963.69" stroke="#000" stroke-width="0.9"/>
<line x1="53.00" y1="968.05" x2="54.50" y2="968.05" stroke="#000" stroke-width="0.9"/>
<line x1="53.00" y1="972.42" x2="54.50" y2="972.42" stroke="#000" stroke-width="0.9"/>
<line x1="53.00" y1="976.78" x2="54.50" y2="976.78" stroke="#000" stroke-width="0.9"/>
<line x1="53.00" y1="981.14" x2="54.50" y2="981.14" stroke="#000" stroke-width="0.9"/>
<line x1="53.00" y1="985.51" x2="54.50" y2="985.51" stroke="#000" stroke-width="0.9"/>
<line x1="53.00" y1="989.87" x2="54.50" y2="989.87" stroke="#000" stroke-width="0.9"/>
<line x1="53.00" y1="994.24" x2="54.50" y2="994.24" stroke="#000" stroke-width="0.9"/>
<line x1="53.00" y1="998.60" x2="54.50" y2="998.60" stroke="#000" stroke-width="0.9"/>
<line x1="66.25" y1="998.60" x2="66.25" y2="1002.80" stroke="#000" stroke-width="1.4"/>
<line x1="78.50" y1="998.60" x2="78.50" y2="1002.80" stroke="#000" stroke-width="1.4"/>
<line x1="106.00" y1="998.60" x2="106.00" y2="1002.80" stroke="#000" stroke-width="1.4"/>
<line x1="132.50" y1="998.60" x2="132.50" y2="1002.80" stroke="#000" stroke-width="1.4"/>
<line x1="157.50" y1="998.60" x2="157.50" y2="1002.80" stroke="#000" stroke-width="1.4"/>
<line x1="55.50" y1="998.60" x2="55.50" y2="1001.20" stroke="#000" stroke-width="1.1"/>
<line x1="59.90" y1="998.60" x2="59.90" y2="1001.20" stroke="#000" stroke-width="1.1"/>
<line x1="63.10" y1="998.60" x2="63.10" y2="1001.20" stroke="#000" stroke-width="1.1"/>
<line x1="69.70" y1="998.60" x2="69.70" y2="1001.20" stroke="#000" stroke-width="1.1"/>
<line x1="74.00" y1="998.60" x2="74.00" y2="1001.20" stroke="#000" stroke-width="1.1"/>
<line x1="86.78" y1="998.60" x2="86.78" y2="1001.20" stroke="#000" stroke-width="1.1"/>
<line x1="91.62" y1="998.60" x2="91.62" y2="1001.20" stroke="#000" stroke-width="1.1"/>
<line x1="95.06" y1="998.60" x2="95.06" y2="1001.20" stroke="#000" stroke-width="1.1"/>
<line x1="97.72" y1="998.60" x2="97.72" y2="1001.20" stroke="#000" stroke-width="1.1"/>
<line x1="99.90" y1="998.60" x2="99.90" y2="1001.20" stroke="#000" stroke-width="1.1"/>
<line x1="101.74" y1="998.60" x2="101.74" y2="1001.20" stroke="#000" stroke-width="1.1"/>
<line x1="103.33" y1="998.60" x2="103.33" y2="1001.20" stroke="#000" stroke-width="1.1"/>
<line x1="104.74" y1="998.60" x2="104.74" y2="1001.20" stroke="#000" stroke-width="1.1"/>
<line x1="113.98" y1="998.60" x2="113.98" y2="1001.20" stroke="#000" stroke-width="1.1"/>
<line x1="118.64" y1="998.60" x2="118.64" y2="1001.20" stroke="#000" stroke-width="1.1"/>
<line x1="121.95" y1="998.60" x2="121.95" y2="1001.20" stroke="#000" stroke-width="1.1"/>
<line x1="124.52" y1="998.60" x2="124.52" y2="1001.20" stroke="#000" stroke-width="1.1"/>
<line x1="126.62" y1="998.60" x2="126.62" y2="1001.20" stroke="#000" stroke-width="1.1"/>
<line x1="128.40" y1="998.60" x2="128.40" y2="1001.20" stroke="#000" stroke-width="1.1"/>
<line x1="129.93" y1="998.60" x2="129.93" y2="1001.20" stroke="#000" stroke-width="1.1"/>
<line x1="131.29" y1="998.60" x2="131.29" y2="1001.20" stroke="#000" stroke-width="1.1"/>
<line x1="140.03" y1="998.60" x2="140.03" y2="1001.20" stroke="#000" stroke-width="1.1"/>
<line x1="144.43" y1="998.60" x2="144.43" y2="1001.20" stroke="#000" stroke-width="1.1"/>
<line x1="147.55" y1="998.60" x2="147.55" y2="1001.20" stroke="#000" stroke-width="1.1"/>
<line x1="149.97" y1="998.60" x2="149.97" y2="1001.20" stroke="#000" stroke-width="1.1"/>
<line x1="151.95" y1="998.60" x2="151.95" y2="1001.20" stroke="#000" stroke-width="1.1"/>
<line x1="153.63" y1="998.60" x2="153.63" y2="1001.20" stroke="#000" stroke-width="1.1"/>
<line x1="155.08" y1="998.60" x2="155.08" y2="1001.20" stroke="#000" stroke-width="1.1"/>
<line x1="156.36" y1="998.60" x2="156.36" y2="1001.20" stroke="#000" stroke-width="1.1"/>
<text transform="translate(66.00,1015.10)" font-size="8.2" text-anchor="middle" stroke="#000" stroke-width="0.22" fill="#000">0</text>
<text transform="translate(79.50,1015.10)" font-size="8.2" text-anchor="middle" stroke="#000" stroke-width="0.22" fill="#000">10<tspan font-size="5.5" dy="-3.5">2</tspan></text>
<text transform="translate(108.00,1015.10)" font-size="8.2" text-anchor="middle" stroke="#000" stroke-width="0.22" fill="#000">10<tspan font-size="5.5" dy="-3.5">3</tspan></text>
<text transform="translate(135.00,1015.10)" font-size="8.2" text-anchor="middle" stroke="#000" stroke-width="0.22" fill="#000">10<tspan font-size="5.5" dy="-3.5">4</tspan></text>
<text transform="translate(158.70,1015.10)" font-size="8.2" text-anchor="middle" stroke="#000" stroke-width="0.22" fill="#000">10<tspan font-size="5.5" dy="-3.5">5</tspan></text>
<text transform="translate(112.80,877.70) scale(1.125,1)" font-size="12.6" text-anchor="middle" font-weight="bold" fill="#000">FMO Control</text>
<text transform="translate(16.50,944.50) scale(1.120,1) rotate(-90)" font-size="10.5" text-anchor="middle" stroke="#000" stroke-width="0.22" fill="#000">SSC-A</text>
<text transform="translate(119.60,975.10) scale(1.120,1)" font-size="9.0" text-anchor="middle" stroke="#56607e" stroke-width="0.22" fill="#56607e">1.14</text>
<path d="M271 959h1v1h-1zM244 960h1v1h-1zM276 960h1v1h-1zM247 961h1v1h-1zM255 961h1v1h-1zM261 961h1v1h-1zM279 961h1v1h-1zM251 962h1v1h-1zM253 962h1v1h-1zM276 962h1v1h-1zM278 962h1v1h-1zM281 962h1v1h-1zM243 963h1v1h-1zM257 963h1v1h-1zM262 963h1v1h-1zM269 963h1v1h-1zM273 963h2v1h-2zM280 963h1v1h-1zM285 963h1v1h-1zM234 964h2v1h-2zM237 964h3v1h-3zM244 964h2v1h-2zM247 964h1v1h-1zM250 964h3v1h-3zM258 964h1v1h-1zM264 964h2v1h-2zM268 964h1v1h-1zM271 964h1v1h-1zM276 964h1v1h-1zM279 964h2v1h-2zM284 964h2v1h-2zM287 964h1v1h-1zM235 965h4v1h-4zM240 965h2v1h-2zM243 965h2v1h-2zM246 965h1v1h-1zM250 965h1v1h-1zM255 965h1v1h-1zM258 965h1v1h-1zM260 965h1v1h-1zM262 965h1v1h-1zM266 965h1v1h-1zM268 965h1v1h-1zM270 965h1v1h-1zM273 965h1v1h-1zM278 965h1v1h-1zM280 965h2v1h-2zM283 965h1v1h-1zM285 965h1v1h-1zM236 966h3v1h-3zM241 966h1v1h-1zM245 966h1v1h-1zM247 966h1v1h-1zM249 966h2v1h-2zM254 966h5v1h-5zM260 966h2v1h-2zM263 966h1v1h-1zM267 966h1v1h-1zM270 966h2v1h-2zM274 966h2v1h-2zM278 966h3v1h-3zM282 966h1v1h-1zM285 966h1v1h-1zM235 967h1v1h-1zM240 967h1v1h-1zM242 967h1v1h-1zM245 967h1v1h-1zM250 967h3v1h-3zM254 967h3v1h-3zM259 967h2v1h-2zM264 967h2v1h-2zM267 967h1v1h-1zM269 967h1v1h-1zM273 967h1v1h-1zM279 967h7v1h-7zM288 967h1v1h-1zM232 968h1v1h-1zM236 968h1v1h-1zM239 968h1v1h-1zM241 968h1v1h-1zM247 968h4v1h-4zM253 968h2v1h-2zM258 968h1v1h-1zM262 968h2v1h-2zM265 968h2v1h-2zM268 968h1v1h-1zM270 968h2v1h-2zM280 968h2v1h-2zM283 968h1v1h-1zM285 968h1v1h-1zM288 968h2v1h-2zM236 969h3v1h-3zM242 969h3v1h-3zM246 969h5v1h-5zM258 969h1v1h-1zM261 969h1v1h-1zM266 969h2v1h-2zM269 969h2v1h-2zM273 969h1v1h-1zM275 969h1v1h-1zM277 969h1v1h-1zM280 969h3v1h-3zM285 969h1v1h-1zM287 969h2v1h-2zM233 970h1v1h-1zM235 970h2v1h-2zM241 970h1v1h-1zM244 970h1v1h-1zM246 970h2v1h-2zM251 970h1v1h-1zM253 970h4v1h-4zM258 970h2v1h-2zM261 970h1v1h-1zM268 970h1v1h-1zM270 970h1v1h-1zM274 970h2v1h-2zM279 970h1v1h-1zM281 970h1v1h-1zM284 970h1v1h-1zM287 970h2v1h-2zM235 971h2v1h-2zM242 971h4v1h-4zM248 971h2v1h-2zM252 971h3v1h-3zM256 971h1v1h-1zM259 971h3v1h-3zM264 971h4v1h-4zM269 971h3v1h-3zM273 971h3v1h-3zM277 971h2v1h-2zM280 971h2v1h-2zM283 971h1v1h-1zM288 971h1v1h-1zM236 972h1v1h-1zM239 972h1v1h-1zM241 972h1v1h-1zM243 972h4v1h-4zM248 972h7v1h-7zM256 972h8v1h-8zM265 972h1v1h-1zM267 972h1v1h-1zM270 972h2v1h-2zM274 972h1v1h-1zM276 972h1v1h-1zM278 972h2v1h-2zM281 972h5v1h-5zM287 972h1v1h-1zM289 972h1v1h-1zM232 973h1v1h-1zM235 973h4v1h-4zM242 973h2v1h-2zM246 973h1v1h-1zM248 973h4v1h-4zM253 973h6v1h-6zM260 973h1v1h-1zM262 973h1v1h-1zM265 973h4v1h-4zM270 973h1v1h-1zM272 973h2v1h-2zM278 973h1v1h-1zM280 973h1v1h-1zM284 973h1v1h-1zM287 973h2v1h-2zM233 974h1v1h-1zM235 974h7v1h-7zM243 974h3v1h-3zM248 974h2v1h-2zM251 974h1v1h-1zM253 974h3v1h-3zM257 974h2v1h-2zM260 974h1v1h-1zM262 974h1v1h-1zM264 974h1v1h-1zM266 974h3v1h-3zM272 974h6v1h-6zM280 974h1v1h-1zM282 974h1v1h-1zM284 974h1v1h-1zM287 974h1v1h-1zM235 975h1v1h-1zM237 975h1v1h-1zM240 975h1v1h-1zM243 975h3v1h-3zM247 975h1v1h-1zM249 975h1v1h-1zM251 975h2v1h-2zM254 975h2v1h-2zM260 975h2v1h-2zM264 975h6v1h-6zM271 975h1v1h-1zM273 975h5v1h-5zM279 975h1v1h-1zM281 975h4v1h-4zM286 975h2v1h-2zM234 976h2v1h-2zM238 976h2v1h-2zM244 976h3v1h-3zM248 976h4v1h-4zM253 976h2v1h-2zM256 976h6v1h-6zM265 976h1v1h-1zM267 976h1v1h-1zM269 976h2v1h-2zM272 976h1v1h-1zM275 976h1v1h-1zM278 976h1v1h-1zM281 976h1v1h-1zM283 976h1v1h-1zM287 976h1v1h-1zM233 977h2v1h-2zM236 977h3v1h-3zM240 977h2v1h-2zM243 977h2v1h-2zM248 977h2v1h-2zM252 977h5v1h-5zM258 977h4v1h-4zM263 977h3v1h-3zM268 977h1v1h-1zM270 977h8v1h-8zM279 977h2v1h-2zM282 977h3v1h-3zM286 977h1v1h-1zM289 977h1v1h-1zM233 978h2v1h-2zM237 978h3v1h-3zM241 978h1v1h-1zM244 978h4v1h-4zM249 978h3v1h-3zM253 978h5v1h-5zM259 978h2v1h-2zM262 978h3v1h-3zM266 978h1v1h-1zM268 978h2v1h-2zM271 978h1v1h-1zM274 978h3v1h-3zM278 978h2v1h-2zM282 978h1v1h-1zM285 978h2v1h-2zM288 978h1v1h-1zM231 979h1v1h-1zM233 979h4v1h-4zM238 979h5v1h-5zM246 979h11v1h-11zM258 979h8v1h-8zM267 979h1v1h-1zM270 979h2v1h-2zM273 979h1v1h-1zM275 979h2v1h-2zM278 979h1v1h-1zM280 979h1v1h-1zM282 979h1v1h-1zM286 979h1v1h-1zM234 980h1v1h-1zM236 980h1v1h-1zM239 980h4v1h-4zM244 980h6v1h-6zM251 980h1v1h-1zM253 980h2v1h-2zM256 980h12v1h-12zM269 980h1v1h-1zM273 980h3v1h-3zM277 980h1v1h-1zM279 980h2v1h-2zM283 980h4v1h-4zM289 980h1v1h-1zM291 980h1v1h-1zM232 981h4v1h-4zM237 981h1v1h-1zM239 981h5v1h-5zM245 981h13v1h-13zM259 981h2v1h-2zM262 981h3v1h-3zM266 981h14v1h-14zM281 981h1v1h-1zM283 981h1v1h-1zM285 981h1v1h-1zM289 981h1v1h-1zM233 982h1v1h-1zM235 982h2v1h-2zM239 982h3v1h-3zM243 982h7v1h-7zM251 982h1v1h-1zM253 982h12v1h-12zM268 982h2v1h-2zM273 982h3v1h-3zM278 982h1v1h-1zM280 982h2v1h-2zM285 982h1v1h-1zM236 983h1v1h-1zM239 983h1v1h-1zM241 983h5v1h-5zM247 983h6v1h-6zM254 983h13v1h-13zM268 983h6v1h-6zM275 983h4v1h-4zM280 983h1v1h-1zM283 983h1v1h-1zM285 983h1v1h-1zM287 983h2v1h-2zM235 984h1v1h-1zM237 984h4v1h-4zM242 984h15v1h-15zM258 984h6v1h-6zM265 984h2v1h-2zM268 984h1v1h-1zM270 984h3v1h-3zM277 984h3v1h-3zM282 984h1v1h-1zM285 984h2v1h-2zM289 984h1v1h-1zM237 985h3v1h-3zM242 985h3v1h-3zM246 985h7v1h-7zM255 985h2v1h-2zM258 985h7v1h-7zM266 985h2v1h-2zM269 985h1v1h-1zM271 985h1v1h-1zM273 985h2v1h-2zM276 985h2v1h-2zM280 985h2v1h-2zM283 985h2v1h-2zM286 985h1v1h-1zM288 985h1v1h-1zM234 986h1v1h-1zM236 986h3v1h-3zM240 986h4v1h-4zM245 986h22v1h-22zM268 986h1v1h-1zM270 986h2v1h-2zM273 986h1v1h-1zM280 986h1v1h-1zM284 986h2v1h-2zM288 986h2v1h-2zM232 987h1v1h-1zM234 987h36v1h-36zM274 987h1v1h-1zM276 987h4v1h-4zM282 987h6v1h-6zM238 988h3v1h-3zM242 988h6v1h-6zM249 988h12v1h-12zM262 988h11v1h-11zM277 988h1v1h-1zM279 988h1v1h-1zM282 988h3v1h-3zM286 988h2v1h-2zM291 988h1v1h-1zM235 989h2v1h-2zM238 989h26v1h-26zM265 989h3v1h-3zM269 989h4v1h-4zM275 989h3v1h-3zM279 989h1v1h-1zM284 989h3v1h-3zM288 989h1v1h-1zM234 990h1v1h-1zM236 990h1v1h-1zM238 990h3v1h-3zM242 990h16v1h-16zM259 990h12v1h-12zM273 990h3v1h-3zM277 990h4v1h-4zM289 990h1v1h-1zM233 991h6v1h-6zM240 991h1v1h-1zM242 991h1v1h-1zM245 991h20v1h-20zM266 991h4v1h-4zM271 991h1v1h-1zM273 991h1v1h-1zM275 991h3v1h-3zM279 991h2v1h-2zM283 991h2v1h-2zM289 991h1v1h-1zM291 991h1v1h-1zM236 992h8v1h-8zM245 992h11v1h-11zM257 992h11v1h-11zM269 992h7v1h-7zM277 992h1v1h-1zM279 992h4v1h-4zM284 992h1v1h-1zM286 992h1v1h-1zM288 992h1v1h-1zM234 993h7v1h-7zM242 993h2v1h-2zM245 993h16v1h-16zM262 993h5v1h-5zM270 993h1v1h-1zM272 993h3v1h-3zM276 993h3v1h-3zM280 993h1v1h-1zM282 993h4v1h-4zM287 993h2v1h-2zM234 994h5v1h-5zM241 994h1v1h-1zM243 994h1v1h-1zM245 994h3v1h-3zM249 994h8v1h-8zM258 994h3v1h-3zM262 994h3v1h-3zM266 994h1v1h-1zM268 994h2v1h-2zM271 994h1v1h-1zM273 994h2v1h-2zM276 994h3v1h-3zM280 994h3v1h-3zM284 994h1v1h-1zM286 994h2v1h-2zM290 994h1v1h-1zM234 995h6v1h-6zM241 995h1v1h-1zM244 995h1v1h-1zM246 995h2v1h-2zM249 995h4v1h-4zM255 995h10v1h-10zM268 995h2v1h-2zM271 995h2v1h-2zM274 995h4v1h-4zM279 995h1v1h-1zM282 995h1v1h-1zM285 995h2v1h-2zM235 996h1v1h-1zM237 996h1v1h-1zM240 996h10v1h-10zM251 996h10v1h-10zM262 996h1v1h-1zM264 996h3v1h-3zM268 996h1v1h-1zM270 996h2v1h-2zM273 996h1v1h-1zM276 996h4v1h-4zM281 996h4v1h-4zM286 996h3v1h-3zM291 996h1v1h-1zM233 997h11v1h-11zM245 997h4v1h-4zM250 997h8v1h-8zM259 997h4v1h-4zM265 997h8v1h-8zM274 997h4v1h-4zM279 997h1v1h-1zM281 997h2v1h-2zM287 997h2v1h-2zM236 998h1v1h-1zM238 998h2v1h-2zM241 998h1v1h-1zM246 998h1v1h-1zM253 998h2v1h-2zM269 998h1v1h-1zM273 998h1v1h-1zM276 998h1v1h-1zM280 998h1v1h-1zM284 998h1v1h-1zM286 998h1v1h-1zM288 998h1v1h-1zM314 962h1v1h-1zM314 977h1v1h-1zM298 985h1v1h-1zM290 987h1v1h-1zM296 990h1v1h-1z" fill="#000"/>
<polygon points="268.75,949.50 306.25,947.50 310.50,999.50 257.00,997.50 268.50,989.00" fill="none" stroke="#56638c" stroke-width="1.3"/>
<rect x="223.50" y="884.30" width="116.50" height="115.80" fill="none" stroke="#000" stroke-width="1.5"/>
<line x1="219.50" y1="889.50" x2="223.50" y2="889.50" stroke="#000" stroke-width="1.3"/>
<text transform="translate(215.50,892.10) scale(1.020,1)" font-size="9" text-anchor="end" stroke="#000" stroke-width="0.22" fill="#000">250K</text>
<line x1="219.50" y1="911.62" x2="223.50" y2="911.62" stroke="#000" stroke-width="1.3"/>
<text transform="translate(215.50,914.22) scale(1.020,1)" font-size="9" text-anchor="end" stroke="#000" stroke-width="0.22" fill="#000">200K</text>
<line x1="219.50" y1="933.74" x2="223.50" y2="933.74" stroke="#000" stroke-width="1.3"/>
<text transform="translate(215.50,936.34) scale(1.020,1)" font-size="9" text-anchor="end" stroke="#000" stroke-width="0.22" fill="#000">150K</text>
<line x1="219.50" y1="955.86" x2="223.50" y2="955.86" stroke="#000" stroke-width="1.3"/>
<text transform="translate(215.50,958.46) scale(1.020,1)" font-size="9" text-anchor="end" stroke="#000" stroke-width="0.22" fill="#000">100K</text>
<line x1="219.50" y1="977.98" x2="223.50" y2="977.98" stroke="#000" stroke-width="1.3"/>
<text transform="translate(215.50,980.58) scale(1.020,1)" font-size="9" text-anchor="end" stroke="#000" stroke-width="0.22" fill="#000">50K</text>
<line x1="219.50" y1="1000.10" x2="223.50" y2="1000.10" stroke="#000" stroke-width="1.3"/>
<text transform="translate(215.50,1002.70) scale(1.020,1)" font-size="9" text-anchor="end" stroke="#000" stroke-width="0.22" fill="#000">0</text>
<line x1="222.00" y1="889.50" x2="223.50" y2="889.50" stroke="#000" stroke-width="0.9"/>
<line x1="222.00" y1="893.92" x2="223.50" y2="893.92" stroke="#000" stroke-width="0.9"/>
<line x1="222.00" y1="898.35" x2="223.50" y2="898.35" stroke="#000" stroke-width="0.9"/>
<line x1="222.00" y1="902.77" x2="223.50" y2="902.77" stroke="#000" stroke-width="0.9"/>
<line x1="222.00" y1="907.20" x2="223.50" y2="907.20" stroke="#000" stroke-width="0.9"/>
<line x1="222.00" y1="911.62" x2="223.50" y2="911.62" stroke="#000" stroke-width="0.9"/>
<line x1="222.00" y1="916.04" x2="223.50" y2="916.04" stroke="#000" stroke-width="0.9"/>
<line x1="222.00" y1="920.47" x2="223.50" y2="920.47" stroke="#000" stroke-width="0.9"/>
<line x1="222.00" y1="924.89" x2="223.50" y2="924.89" stroke="#000" stroke-width="0.9"/>
<line x1="222.00" y1="929.32" x2="223.50" y2="929.32" stroke="#000" stroke-width="0.9"/>
<line x1="222.00" y1="933.74" x2="223.50" y2="933.74" stroke="#000" stroke-width="0.9"/>
<line x1="222.00" y1="938.16" x2="223.50" y2="938.16" stroke="#000" stroke-width="0.9"/>
<line x1="222.00" y1="942.59" x2="223.50" y2="942.59" stroke="#000" stroke-width="0.9"/>
<line x1="222.00" y1="947.01" x2="223.50" y2="947.01" stroke="#000" stroke-width="0.9"/>
<line x1="222.00" y1="951.44" x2="223.50" y2="951.44" stroke="#000" stroke-width="0.9"/>
<line x1="222.00" y1="955.86" x2="223.50" y2="955.86" stroke="#000" stroke-width="0.9"/>
<line x1="222.00" y1="960.28" x2="223.50" y2="960.28" stroke="#000" stroke-width="0.9"/>
<line x1="222.00" y1="964.71" x2="223.50" y2="964.71" stroke="#000" stroke-width="0.9"/>
<line x1="222.00" y1="969.13" x2="223.50" y2="969.13" stroke="#000" stroke-width="0.9"/>
<line x1="222.00" y1="973.56" x2="223.50" y2="973.56" stroke="#000" stroke-width="0.9"/>
<line x1="222.00" y1="977.98" x2="223.50" y2="977.98" stroke="#000" stroke-width="0.9"/>
<line x1="222.00" y1="982.40" x2="223.50" y2="982.40" stroke="#000" stroke-width="0.9"/>
<line x1="222.00" y1="986.83" x2="223.50" y2="986.83" stroke="#000" stroke-width="0.9"/>
<line x1="222.00" y1="991.25" x2="223.50" y2="991.25" stroke="#000" stroke-width="0.9"/>
<line x1="222.00" y1="995.68" x2="223.50" y2="995.68" stroke="#000" stroke-width="0.9"/>
<line x1="222.00" y1="1000.10" x2="223.50" y2="1000.10" stroke="#000" stroke-width="0.9"/>
<line x1="235.25" y1="1000.10" x2="235.25" y2="1004.30" stroke="#000" stroke-width="1.4"/>
<line x1="247.50" y1="1000.10" x2="247.50" y2="1004.30" stroke="#000" stroke-width="1.4"/>
<line x1="275.00" y1="1000.10" x2="275.00" y2="1004.30" stroke="#000" stroke-width="1.4"/>
<line x1="301.50" y1="1000.10" x2="301.50" y2="1004.30" stroke="#000" stroke-width="1.4"/>
<line x1="326.50" y1="1000.10" x2="326.50" y2="1004.30" stroke="#000" stroke-width="1.4"/>
<line x1="224.50" y1="1000.10" x2="224.50" y2="1002.70" stroke="#000" stroke-width="1.1"/>
<line x1="228.90" y1="1000.10" x2="228.90" y2="1002.70" stroke="#000" stroke-width="1.1"/>
<line x1="232.10" y1="1000.10" x2="232.10" y2="1002.70" stroke="#000" stroke-width="1.1"/>
<line x1="238.70" y1="1000.10" x2="238.70" y2="1002.70" stroke="#000" stroke-width="1.1"/>
<line x1="243.00" y1="1000.10" x2="243.00" y2="1002.70" stroke="#000" stroke-width="1.1"/>
<line x1="255.78" y1="1000.10" x2="255.78" y2="1002.70" stroke="#000" stroke-width="1.1"/>
<line x1="260.62" y1="1000.10" x2="260.62" y2="1002.70" stroke="#000" stroke-width="1.1"/>
<line x1="264.06" y1="1000.10" x2="264.06" y2="1002.70" stroke="#000" stroke-width="1.1"/>
<line x1="266.72" y1="1000.10" x2="266.72" y2="1002.70" stroke="#000" stroke-width="1.1"/>
<line x1="268.90" y1="1000.10" x2="268.90" y2="1002.70" stroke="#000" stroke-width="1.1"/>
<line x1="270.74" y1="1000.10" x2="270.74" y2="1002.70" stroke="#000" stroke-width="1.1"/>
<line x1="272.33" y1="1000.10" x2="272.33" y2="1002.70" stroke="#000" stroke-width="1.1"/>
<line x1="273.74" y1="1000.10" x2="273.74" y2="1002.70" stroke="#000" stroke-width="1.1"/>
<line x1="282.98" y1="1000.10" x2="282.98" y2="1002.70" stroke="#000" stroke-width="1.1"/>
<line x1="287.64" y1="1000.10" x2="287.64" y2="1002.70" stroke="#000" stroke-width="1.1"/>
<line x1="290.95" y1="1000.10" x2="290.95" y2="1002.70" stroke="#000" stroke-width="1.1"/>
<line x1="293.52" y1="1000.10" x2="293.52" y2="1002.70" stroke="#000" stroke-width="1.1"/>
<line x1="295.62" y1="1000.10" x2="295.62" y2="1002.70" stroke="#000" stroke-width="1.1"/>
<line x1="297.40" y1="1000.10" x2="297.40" y2="1002.70" stroke="#000" stroke-width="1.1"/>
<line x1="298.93" y1="1000.10" x2="298.93" y2="1002.70" stroke="#000" stroke-width="1.1"/>
<line x1="300.29" y1="1000.10" x2="300.29" y2="1002.70" stroke="#000" stroke-width="1.1"/>
<line x1="309.03" y1="1000.10" x2="309.03" y2="1002.70" stroke="#000" stroke-width="1.1"/>
<line x1="313.43" y1="1000.10" x2="313.43" y2="1002.70" stroke="#000" stroke-width="1.1"/>
<line x1="316.55" y1="1000.10" x2="316.55" y2="1002.70" stroke="#000" stroke-width="1.1"/>
<line x1="318.97" y1="1000.10" x2="318.97" y2="1002.70" stroke="#000" stroke-width="1.1"/>
<line x1="320.95" y1="1000.10" x2="320.95" y2="1002.70" stroke="#000" stroke-width="1.1"/>
<line x1="322.63" y1="1000.10" x2="322.63" y2="1002.70" stroke="#000" stroke-width="1.1"/>
<line x1="324.08" y1="1000.10" x2="324.08" y2="1002.70" stroke="#000" stroke-width="1.1"/>
<line x1="325.36" y1="1000.10" x2="325.36" y2="1002.70" stroke="#000" stroke-width="1.1"/>
<text transform="translate(235.00,1016.20)" font-size="8.2" text-anchor="middle" stroke="#000" stroke-width="0.22" fill="#000">0</text>
<text transform="translate(248.50,1016.20)" font-size="8.2" text-anchor="middle" stroke="#000" stroke-width="0.22" fill="#000">10<tspan font-size="5.5" dy="-3.5">2</tspan></text>
<text transform="translate(277.00,1016.20)" font-size="8.2" text-anchor="middle" stroke="#000" stroke-width="0.22" fill="#000">10<tspan font-size="5.5" dy="-3.5">3</tspan></text>
<text transform="translate(304.00,1016.20)" font-size="8.2" text-anchor="middle" stroke="#000" stroke-width="0.22" fill="#000">10<tspan font-size="5.5" dy="-3.5">4</tspan></text>
<text transform="translate(327.70,1016.20)" font-size="8.2" text-anchor="middle" stroke="#000" stroke-width="0.22" fill="#000">10<tspan font-size="5.5" dy="-3.5">5</tspan></text>
<text transform="translate(281.00,877.70) scale(1.125,1)" font-size="12.6" text-anchor="middle" font-weight="bold" fill="#000">RBP-J<tspan font-size="9" dy="-4.5">CKO</tspan><tspan dy="4.5">-4OHT</tspan></text>
<text transform="translate(185.70,944.50) scale(1.120,1) rotate(-90)" font-size="10.5" text-anchor="middle" stroke="#000" stroke-width="0.22" fill="#000">SSC-A</text>
<text transform="translate(288.80,940.50) scale(1.120,1)" font-size="9.0" text-anchor="middle" stroke="#56607e" stroke-width="0.22" fill="#56607e">30.1</text>
<path d="M449 960h1v1h-1zM405 961h1v1h-1zM424 961h1v1h-1zM427 961h2v1h-2zM445 961h1v1h-1zM409 962h1v1h-1zM422 962h1v1h-1zM433 962h1v1h-1zM436 962h1v1h-1zM405 963h1v1h-1zM413 963h1v1h-1zM416 963h1v1h-1zM420 963h1v1h-1zM425 963h4v1h-4zM431 963h3v1h-3zM442 963h1v1h-1zM446 963h3v1h-3zM451 963h1v1h-1zM454 963h1v1h-1zM404 964h2v1h-2zM408 964h1v1h-1zM412 964h1v1h-1zM423 964h1v1h-1zM425 964h1v1h-1zM434 964h1v1h-1zM436 964h1v1h-1zM439 964h1v1h-1zM441 964h1v1h-1zM444 964h1v1h-1zM451 964h1v1h-1zM453 964h1v1h-1zM418 965h1v1h-1zM420 965h1v1h-1zM422 965h1v1h-1zM426 965h1v1h-1zM429 965h1v1h-1zM431 965h1v1h-1zM433 965h1v1h-1zM436 965h1v1h-1zM443 965h2v1h-2zM446 965h2v1h-2zM450 965h1v1h-1zM402 966h1v1h-1zM407 966h1v1h-1zM412 966h1v1h-1zM416 966h2v1h-2zM420 966h1v1h-1zM425 966h1v1h-1zM430 966h1v1h-1zM435 966h5v1h-5zM452 966h1v1h-1zM454 966h1v1h-1zM456 966h2v1h-2zM406 967h2v1h-2zM410 967h1v1h-1zM412 967h1v1h-1zM417 967h3v1h-3zM421 967h1v1h-1zM423 967h1v1h-1zM426 967h1v1h-1zM430 967h1v1h-1zM433 967h1v1h-1zM435 967h3v1h-3zM444 967h1v1h-1zM447 967h1v1h-1zM449 967h4v1h-4zM455 967h1v1h-1zM403 968h1v1h-1zM405 968h2v1h-2zM408 968h2v1h-2zM411 968h1v1h-1zM418 968h5v1h-5zM425 968h1v1h-1zM428 968h4v1h-4zM435 968h3v1h-3zM440 968h1v1h-1zM442 968h1v1h-1zM444 968h2v1h-2zM449 968h1v1h-1zM453 968h1v1h-1zM455 968h1v1h-1zM402 969h1v1h-1zM406 969h2v1h-2zM411 969h1v1h-1zM414 969h1v1h-1zM418 969h1v1h-1zM422 969h1v1h-1zM424 969h1v1h-1zM429 969h1v1h-1zM432 969h3v1h-3zM437 969h1v1h-1zM439 969h1v1h-1zM441 969h1v1h-1zM444 969h2v1h-2zM449 969h1v1h-1zM452 969h2v1h-2zM455 969h2v1h-2zM406 970h1v1h-1zM409 970h2v1h-2zM413 970h2v1h-2zM417 970h1v1h-1zM419 970h1v1h-1zM421 970h1v1h-1zM426 970h1v1h-1zM429 970h3v1h-3zM436 970h5v1h-5zM443 970h2v1h-2zM450 970h4v1h-4zM403 971h1v1h-1zM409 971h3v1h-3zM413 971h3v1h-3zM418 971h1v1h-1zM421 971h2v1h-2zM424 971h2v1h-2zM427 971h2v1h-2zM430 971h6v1h-6zM437 971h1v1h-1zM440 971h2v1h-2zM444 971h2v1h-2zM448 971h1v1h-1zM451 971h3v1h-3zM402 972h1v1h-1zM404 972h1v1h-1zM406 972h2v1h-2zM410 972h1v1h-1zM412 972h1v1h-1zM414 972h3v1h-3zM420 972h2v1h-2zM423 972h2v1h-2zM426 972h1v1h-1zM428 972h10v1h-10zM441 972h1v1h-1zM443 972h2v1h-2zM446 972h1v1h-1zM448 972h2v1h-2zM452 972h2v1h-2zM456 972h1v1h-1zM402 973h3v1h-3zM407 973h3v1h-3zM411 973h1v1h-1zM413 973h1v1h-1zM415 973h2v1h-2zM420 973h4v1h-4zM426 973h1v1h-1zM428 973h1v1h-1zM430 973h6v1h-6zM437 973h2v1h-2zM444 973h2v1h-2zM449 973h2v1h-2zM454 973h1v1h-1zM456 973h1v1h-1zM402 974h1v1h-1zM404 974h1v1h-1zM407 974h1v1h-1zM409 974h1v1h-1zM411 974h10v1h-10zM425 974h1v1h-1zM427 974h1v1h-1zM431 974h2v1h-2zM434 974h1v1h-1zM437 974h1v1h-1zM439 974h1v1h-1zM441 974h2v1h-2zM444 974h1v1h-1zM447 974h1v1h-1zM449 974h3v1h-3zM453 974h1v1h-1zM456 974h1v1h-1zM404 975h1v1h-1zM406 975h2v1h-2zM409 975h1v1h-1zM411 975h1v1h-1zM413 975h9v1h-9zM423 975h1v1h-1zM425 975h4v1h-4zM430 975h1v1h-1zM435 975h1v1h-1zM438 975h6v1h-6zM445 975h3v1h-3zM449 975h2v1h-2zM452 975h2v1h-2zM455 975h1v1h-1zM403 976h2v1h-2zM406 976h3v1h-3zM411 976h2v1h-2zM414 976h1v1h-1zM417 976h10v1h-10zM429 976h5v1h-5zM437 976h2v1h-2zM440 976h1v1h-1zM442 976h3v1h-3zM446 976h3v1h-3zM451 976h3v1h-3zM400 977h1v1h-1zM404 977h1v1h-1zM408 977h3v1h-3zM413 977h12v1h-12zM426 977h2v1h-2zM429 977h1v1h-1zM431 977h1v1h-1zM433 977h1v1h-1zM435 977h8v1h-8zM444 977h3v1h-3zM448 977h1v1h-1zM451 977h1v1h-1zM453 977h3v1h-3zM404 978h5v1h-5zM410 978h2v1h-2zM413 978h1v1h-1zM415 978h15v1h-15zM431 978h3v1h-3zM435 978h1v1h-1zM437 978h1v1h-1zM439 978h2v1h-2zM442 978h2v1h-2zM447 978h5v1h-5zM453 978h2v1h-2zM456 978h1v1h-1zM402 979h1v1h-1zM404 979h1v1h-1zM409 979h1v1h-1zM411 979h2v1h-2zM414 979h1v1h-1zM416 979h2v1h-2zM419 979h14v1h-14zM434 979h3v1h-3zM440 979h4v1h-4zM448 979h1v1h-1zM450 979h1v1h-1zM402 980h7v1h-7zM410 980h1v1h-1zM412 980h1v1h-1zM414 980h7v1h-7zM422 980h2v1h-2zM425 980h9v1h-9zM435 980h1v1h-1zM438 980h1v1h-1zM440 980h1v1h-1zM444 980h1v1h-1zM446 980h5v1h-5zM407 981h2v1h-2zM410 981h3v1h-3zM414 981h2v1h-2zM417 981h4v1h-4zM423 981h4v1h-4zM428 981h6v1h-6zM435 981h1v1h-1zM438 981h5v1h-5zM444 981h2v1h-2zM448 981h6v1h-6zM401 982h1v1h-1zM403 982h4v1h-4zM409 982h3v1h-3zM414 982h2v1h-2zM417 982h2v1h-2zM420 982h10v1h-10zM431 982h1v1h-1zM433 982h1v1h-1zM435 982h3v1h-3zM440 982h2v1h-2zM443 982h1v1h-1zM446 982h2v1h-2zM449 982h1v1h-1zM451 982h1v1h-1zM454 982h1v1h-1zM402 983h4v1h-4zM407 983h2v1h-2zM411 983h3v1h-3zM415 983h4v1h-4zM420 983h12v1h-12zM433 983h1v1h-1zM436 983h2v1h-2zM440 983h1v1h-1zM446 983h1v1h-1zM449 983h1v1h-1zM454 983h2v1h-2zM403 984h3v1h-3zM407 984h1v1h-1zM409 984h3v1h-3zM413 984h27v1h-27zM441 984h3v1h-3zM446 984h2v1h-2zM449 984h4v1h-4zM454 984h1v1h-1zM404 985h5v1h-5zM412 985h1v1h-1zM414 985h1v1h-1zM416 985h3v1h-3zM420 985h13v1h-13zM434 985h4v1h-4zM440 985h7v1h-7zM448 985h4v1h-4zM400 986h3v1h-3zM405 986h1v1h-1zM407 986h29v1h-29zM437 986h5v1h-5zM444 986h1v1h-1zM446 986h3v1h-3zM450 986h2v1h-2zM455 986h1v1h-1zM402 987h1v1h-1zM404 987h1v1h-1zM406 987h34v1h-34zM441 987h1v1h-1zM443 987h5v1h-5zM450 987h1v1h-1zM454 987h1v1h-1zM457 987h1v1h-1zM400 988h1v1h-1zM402 988h2v1h-2zM405 988h29v1h-29zM435 988h6v1h-6zM442 988h1v1h-1zM444 988h6v1h-6zM451 988h1v1h-1zM454 988h2v1h-2zM402 989h2v1h-2zM405 989h1v1h-1zM408 989h3v1h-3zM412 989h8v1h-8zM421 989h12v1h-12zM436 989h5v1h-5zM442 989h2v1h-2zM445 989h2v1h-2zM448 989h3v1h-3zM453 989h2v1h-2zM400 990h1v1h-1zM402 990h1v1h-1zM406 990h18v1h-18zM425 990h7v1h-7zM433 990h1v1h-1zM435 990h2v1h-2zM438 990h1v1h-1zM440 990h3v1h-3zM444 990h2v1h-2zM449 990h3v1h-3zM402 991h9v1h-9zM412 991h10v1h-10zM423 991h13v1h-13zM439 991h2v1h-2zM443 991h3v1h-3zM447 991h1v1h-1zM450 991h1v1h-1zM454 991h1v1h-1zM402 992h1v1h-1zM404 992h1v1h-1zM406 992h1v1h-1zM409 992h22v1h-22zM432 992h6v1h-6zM439 992h3v1h-3zM444 992h1v1h-1zM446 992h1v1h-1zM448 992h1v1h-1zM450 992h3v1h-3zM454 992h1v1h-1zM400 993h1v1h-1zM402 993h4v1h-4zM407 993h20v1h-20zM428 993h3v1h-3zM432 993h1v1h-1zM434 993h3v1h-3zM438 993h3v1h-3zM445 993h3v1h-3zM449 993h1v1h-1zM451 993h3v1h-3zM455 993h2v1h-2zM401 994h1v1h-1zM403 994h2v1h-2zM407 994h2v1h-2zM410 994h24v1h-24zM435 994h2v1h-2zM441 994h1v1h-1zM443 994h4v1h-4zM448 994h4v1h-4zM403 995h3v1h-3zM408 995h3v1h-3zM412 995h4v1h-4zM417 995h4v1h-4zM422 995h8v1h-8zM431 995h4v1h-4zM436 995h1v1h-1zM438 995h3v1h-3zM442 995h2v1h-2zM445 995h2v1h-2zM449 995h3v1h-3zM455 995h1v1h-1zM404 996h1v1h-1zM407 996h1v1h-1zM409 996h3v1h-3zM413 996h1v1h-1zM415 996h9v1h-9zM426 996h5v1h-5zM433 996h1v1h-1zM435 996h5v1h-5zM443 996h7v1h-7zM453 996h1v1h-1zM405 997h3v1h-3zM410 997h6v1h-6zM417 997h1v1h-1zM419 997h3v1h-3zM423 997h1v1h-1zM425 997h3v1h-3zM430 997h2v1h-2zM433 997h1v1h-1zM435 997h2v1h-2zM438 997h4v1h-4zM445 997h1v1h-1zM447 997h2v1h-2zM450 997h2v1h-2zM453 997h1v1h-1zM456 997h1v1h-1zM418 998h1v1h-1zM421 998h1v1h-1zM424 998h1v1h-1zM428 998h2v1h-2zM431 998h1v1h-1zM437 998h1v1h-1zM441 998h1v1h-1zM447 998h1v1h-1zM449 998h1v1h-1zM468 966h1v1h-1zM459 963h1v1h-1zM462 970h1v1h-1zM458 975h1v1h-1z" fill="#000"/>
<polygon points="437.50,949.50 474.50,948.00 479.50,999.80 426.25,997.50 437.30,988.00" fill="none" stroke="#56638c" stroke-width="1.3"/>
<rect x="393.60" y="884.30" width="116.90" height="116.20" fill="none" stroke="#000" stroke-width="1.5"/>
<line x1="389.60" y1="889.50" x2="393.60" y2="889.50" stroke="#000" stroke-width="1.3"/>
<text transform="translate(385.50,892.10) scale(1.020,1)" font-size="9" text-anchor="end" stroke="#000" stroke-width="0.22" fill="#000">250K</text>
<line x1="389.60" y1="911.70" x2="393.60" y2="911.70" stroke="#000" stroke-width="1.3"/>
<text transform="translate(385.50,914.30) scale(1.020,1)" font-size="9" text-anchor="end" stroke="#000" stroke-width="0.22" fill="#000">200K</text>
<line x1="389.60" y1="933.90" x2="393.60" y2="933.90" stroke="#000" stroke-width="1.3"/>
<text transform="translate(385.50,936.50) scale(1.020,1)" font-size="9" text-anchor="end" stroke="#000" stroke-width="0.22" fill="#000">150K</text>
<line x1="389.60" y1="956.10" x2="393.60" y2="956.10" stroke="#000" stroke-width="1.3"/>
<text transform="translate(385.50,958.70) scale(1.020,1)" font-size="9" text-anchor="end" stroke="#000" stroke-width="0.22" fill="#000">100K</text>
<line x1="389.60" y1="978.30" x2="393.60" y2="978.30" stroke="#000" stroke-width="1.3"/>
<text transform="translate(385.50,980.90) scale(1.020,1)" font-size="9" text-anchor="end" stroke="#000" stroke-width="0.22" fill="#000">50K</text>
<line x1="389.60" y1="1000.50" x2="393.60" y2="1000.50" stroke="#000" stroke-width="1.3"/>
<text transform="translate(385.50,1003.10) scale(1.020,1)" font-size="9" text-anchor="end" stroke="#000" stroke-width="0.22" fill="#000">0</text>
<line x1="392.10" y1="889.50" x2="393.60" y2="889.50" stroke="#000" stroke-width="0.9"/>
<line x1="392.10" y1="893.94" x2="393.60" y2="893.94" stroke="#000" stroke-width="0.9"/>
<line x1="392.10" y1="898.38" x2="393.60" y2="898.38" stroke="#000" stroke-width="0.9"/>
<line x1="392.10" y1="902.82" x2="393.60" y2="902.82" stroke="#000" stroke-width="0.9"/>
<line x1="392.10" y1="907.26" x2="393.60" y2="907.26" stroke="#000" stroke-width="0.9"/>
<line x1="392.10" y1="911.70" x2="393.60" y2="911.70" stroke="#000" stroke-width="0.9"/>
<line x1="392.10" y1="916.14" x2="393.60" y2="916.14" stroke="#000" stroke-width="0.9"/>
<line x1="392.10" y1="920.58" x2="393.60" y2="920.58" stroke="#000" stroke-width="0.9"/>
<line x1="392.10" y1="925.02" x2="393.60" y2="925.02" stroke="#000" stroke-width="0.9"/>
<line x1="392.10" y1="929.46" x2="393.60" y2="929.46" stroke="#000" stroke-width="0.9"/>
<line x1="392.10" y1="933.90" x2="393.60" y2="933.90" stroke="#000" stroke-width="0.9"/>
<line x1="392.10" y1="938.34" x2="393.60" y2="938.34" stroke="#000" stroke-width="0.9"/>
<line x1="392.10" y1="942.78" x2="393.60" y2="942.78" stroke="#000" stroke-width="0.9"/>
<line x1="392.10" y1="947.22" x2="393.60" y2="947.22" stroke="#000" stroke-width="0.9"/>
<line x1="392.10" y1="951.66" x2="393.60" y2="951.66" stroke="#000" stroke-width="0.9"/>
<line x1="392.10" y1="956.10" x2="393.60" y2="956.10" stroke="#000" stroke-width="0.9"/>
<line x1="392.10" y1="960.54" x2="393.60" y2="960.54" stroke="#000" stroke-width="0.9"/>
<line x1="392.10" y1="964.98" x2="393.60" y2="964.98" stroke="#000" stroke-width="0.9"/>
<line x1="392.10" y1="969.42" x2="393.60" y2="969.42" stroke="#000" stroke-width="0.9"/>
<line x1="392.10" y1="973.86" x2="393.60" y2="973.86" stroke="#000" stroke-width="0.9"/>
<line x1="392.10" y1="978.30" x2="393.60" y2="978.30" stroke="#000" stroke-width="0.9"/>
<line x1="392.10" y1="982.74" x2="393.60" y2="982.74" stroke="#000" stroke-width="0.9"/>
<line x1="392.10" y1="987.18" x2="393.60" y2="987.18" stroke="#000" stroke-width="0.9"/>
<line x1="392.10" y1="991.62" x2="393.60" y2="991.62" stroke="#000" stroke-width="0.9"/>
<line x1="392.10" y1="996.06" x2="393.60" y2="996.06" stroke="#000" stroke-width="0.9"/>
<line x1="392.10" y1="1000.50" x2="393.60" y2="1000.50" stroke="#000" stroke-width="0.9"/>
<line x1="405.35" y1="1000.50" x2="405.35" y2="1004.70" stroke="#000" stroke-width="1.4"/>
<line x1="417.60" y1="1000.50" x2="417.60" y2="1004.70" stroke="#000" stroke-width="1.4"/>
<line x1="445.10" y1="1000.50" x2="445.10" y2="1004.70" stroke="#000" stroke-width="1.4"/>
<line x1="471.60" y1="1000.50" x2="471.60" y2="1004.70" stroke="#000" stroke-width="1.4"/>
<line x1="496.60" y1="1000.50" x2="496.60" y2="1004.70" stroke="#000" stroke-width="1.4"/>
<line x1="394.60" y1="1000.50" x2="394.60" y2="1003.10" stroke="#000" stroke-width="1.1"/>
<line x1="399.00" y1="1000.50" x2="399.00" y2="1003.10" stroke="#000" stroke-width="1.1"/>
<line x1="402.20" y1="1000.50" x2="402.20" y2="1003.10" stroke="#000" stroke-width="1.1"/>
<line x1="408.80" y1="1000.50" x2="408.80" y2="1003.10" stroke="#000" stroke-width="1.1"/>
<line x1="413.10" y1="1000.50" x2="413.10" y2="1003.10" stroke="#000" stroke-width="1.1"/>
<line x1="425.88" y1="1000.50" x2="425.88" y2="1003.10" stroke="#000" stroke-width="1.1"/>
<line x1="430.72" y1="1000.50" x2="430.72" y2="1003.10" stroke="#000" stroke-width="1.1"/>
<line x1="434.16" y1="1000.50" x2="434.16" y2="1003.10" stroke="#000" stroke-width="1.1"/>
<line x1="436.82" y1="1000.50" x2="436.82" y2="1003.10" stroke="#000" stroke-width="1.1"/>
<line x1="439.00" y1="1000.50" x2="439.00" y2="1003.10" stroke="#000" stroke-width="1.1"/>
<line x1="440.84" y1="1000.50" x2="440.84" y2="1003.10" stroke="#000" stroke-width="1.1"/>
<line x1="442.43" y1="1000.50" x2="442.43" y2="1003.10" stroke="#000" stroke-width="1.1"/>
<line x1="443.84" y1="1000.50" x2="443.84" y2="1003.10" stroke="#000" stroke-width="1.1"/>
<line x1="453.08" y1="1000.50" x2="453.08" y2="1003.10" stroke="#000" stroke-width="1.1"/>
<line x1="457.74" y1="1000.50" x2="457.74" y2="1003.10" stroke="#000" stroke-width="1.1"/>
<line x1="461.05" y1="1000.50" x2="461.05" y2="1003.10" stroke="#000" stroke-width="1.1"/>
<line x1="463.62" y1="1000.50" x2="463.62" y2="1003.10" stroke="#000" stroke-width="1.1"/>
<line x1="465.72" y1="1000.50" x2="465.72" y2="1003.10" stroke="#000" stroke-width="1.1"/>
<line x1="467.50" y1="1000.50" x2="467.50" y2="1003.10" stroke="#000" stroke-width="1.1"/>
<line x1="469.03" y1="1000.50" x2="469.03" y2="1003.10" stroke="#000" stroke-width="1.1"/>
<line x1="470.39" y1="1000.50" x2="470.39" y2="1003.10" stroke="#000" stroke-width="1.1"/>
<line x1="479.13" y1="1000.50" x2="479.13" y2="1003.10" stroke="#000" stroke-width="1.1"/>
<line x1="483.53" y1="1000.50" x2="483.53" y2="1003.10" stroke="#000" stroke-width="1.1"/>
<line x1="486.65" y1="1000.50" x2="486.65" y2="1003.10" stroke="#000" stroke-width="1.1"/>
<line x1="489.07" y1="1000.50" x2="489.07" y2="1003.10" stroke="#000" stroke-width="1.1"/>
<line x1="491.05" y1="1000.50" x2="491.05" y2="1003.10" stroke="#000" stroke-width="1.1"/>
<line x1="492.73" y1="1000.50" x2="492.73" y2="1003.10" stroke="#000" stroke-width="1.1"/>
<line x1="494.18" y1="1000.50" x2="494.18" y2="1003.10" stroke="#000" stroke-width="1.1"/>
<line x1="495.46" y1="1000.50" x2="495.46" y2="1003.10" stroke="#000" stroke-width="1.1"/>
<text transform="translate(405.10,1016.20)" font-size="8.2" text-anchor="middle" stroke="#000" stroke-width="0.22" fill="#000">0</text>
<text transform="translate(418.60,1016.20)" font-size="8.2" text-anchor="middle" stroke="#000" stroke-width="0.22" fill="#000">10<tspan font-size="5.5" dy="-3.5">2</tspan></text>
<text transform="translate(447.10,1016.20)" font-size="8.2" text-anchor="middle" stroke="#000" stroke-width="0.22" fill="#000">10<tspan font-size="5.5" dy="-3.5">3</tspan></text>
<text transform="translate(474.10,1016.20)" font-size="8.2" text-anchor="middle" stroke="#000" stroke-width="0.22" fill="#000">10<tspan font-size="5.5" dy="-3.5">4</tspan></text>
<text transform="translate(497.80,1016.20)" font-size="8.2" text-anchor="middle" stroke="#000" stroke-width="0.22" fill="#000">10<tspan font-size="5.5" dy="-3.5">5</tspan></text>
<text transform="translate(451.25,877.70) scale(1.125,1)" font-size="12.6" text-anchor="middle" font-weight="bold" fill="#000">RBP-J<tspan font-size="9" dy="-4.5">CKO</tspan><tspan dy="4.5">+4OHT</tspan></text>
<text transform="translate(354.60,944.50) scale(1.120,1) rotate(-90)" font-size="10.5" text-anchor="middle" stroke="#000" stroke-width="0.22" fill="#000">SSC-A</text>
<text transform="translate(458.10,941.20) scale(1.120,1)" font-size="9.0" text-anchor="middle" stroke="#56607e" stroke-width="0.22" fill="#56607e">24.3</text>
<line x1="33.75" y1="1027.30" x2="495.00" y2="1027.30" stroke="#000" stroke-width="2.0"/>
<polygon points="503.5,1027.3 490.5,1022.8 494,1027.3 490.5,1031.8" fill="#000"/>
<text transform="translate(34.30,1043.00) scale(1.030,1)" font-size="11.5" text-anchor="start" stroke="#000" stroke-width="0.22" fill="#000">RBP-J&#954;</text>
<rect x="0.00" y="0.00" width="520.00" height="1.20" fill="#000"/>
<rect x="0.00" y="0.00" width="1.20" height="1057.00" fill="#000"/>
<rect x="518.60" y="0.00" width="1.40" height="1057.00" fill="#000"/>
<rect x="0.00" y="1055.60" width="520.00" height="1.40" fill="#000"/>
</svg></body></html>
